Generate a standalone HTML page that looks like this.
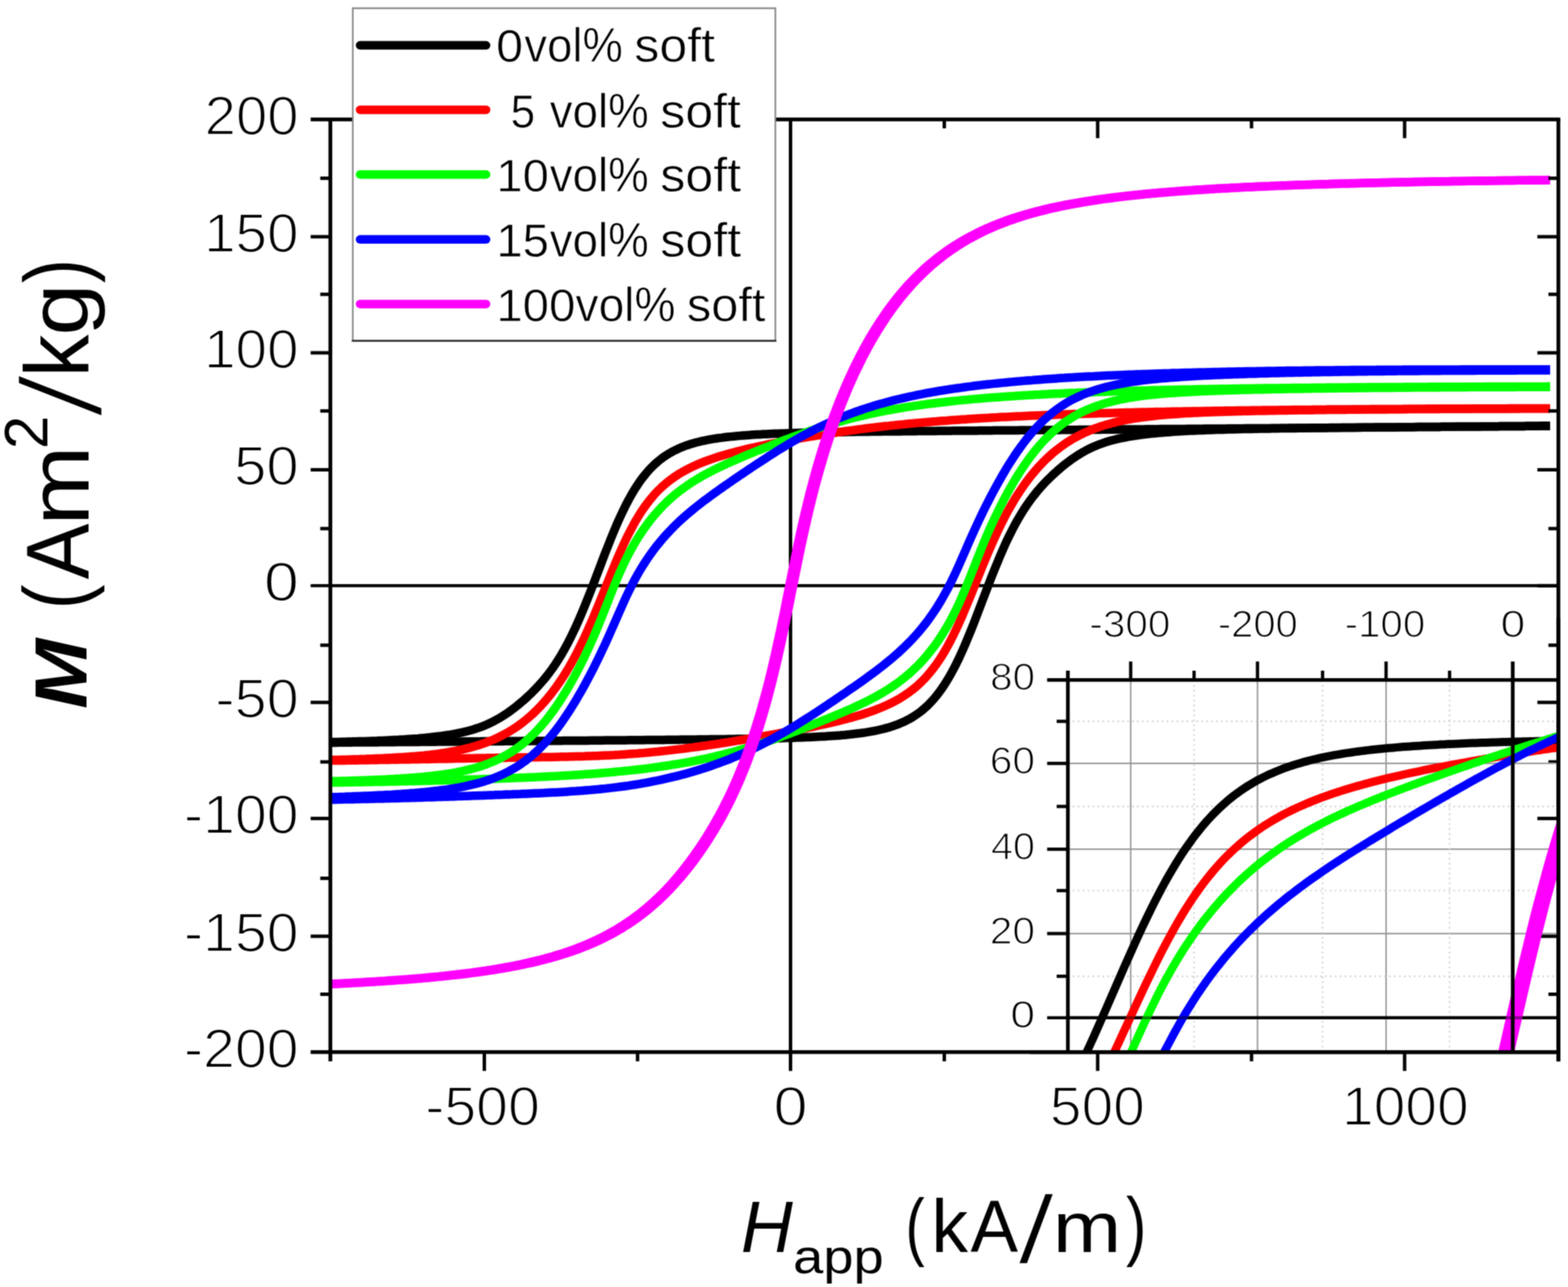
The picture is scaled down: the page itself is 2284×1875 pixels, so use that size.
<!DOCTYPE html>
<html lang="en"><head><meta charset="utf-8"><title>M versus H hysteresis loops</title>
<style>html,body{margin:0;padding:0;background:#fff}svg{display:block}text{font-family:"Liberation Sans",sans-serif;fill:#000}</style></head>
<body>
<svg xmlns="http://www.w3.org/2000/svg" width="2284" height="1875" viewBox="0 0 2284 1875">
<defs>
<clipPath id="cm"><rect x="480.2" y="174.0" width="1789.8" height="1358.7"/></clipPath>
<clipPath id="ci"><rect x="1555.5" y="990.6" width="713.5" height="542.1"/></clipPath>
<filter id="soft" filterUnits="userSpaceOnUse" x="0" y="0" width="2284" height="1875" color-interpolation-filters="sRGB"><feConvolveMatrix order="3" kernelMatrix="1 2 1 2 4 2 1 2 1" edgeMode="duplicate" preserveAlpha="true"/></filter>
</defs>
<rect width="2284" height="1875" fill="#fff"/>
<g filter="url(#soft)">
<rect width="2284" height="1875" fill="#fff"/>
<g stroke="#000" fill="none">
<line x1="452.5" y1="853.3" x2="2270.0" y2="853.3" stroke-width="4.6"/>
<line x1="1151.5" y1="174.0" x2="1151.5" y2="1560.2" stroke-width="5.0"/>
</g>
<g clip-path="url(#cm)" fill="none" stroke-width="12.5" stroke-linecap="butt" stroke-linejoin="round">
<path d="M472.3,1081.3 L476.5,1081.2 L480.8,1081.1 L485.1,1081.0 L489.3,1081.0 L493.6,1080.9 L497.9,1080.8 L502.1,1080.7 L506.4,1080.6 L510.6,1080.5 L514.9,1080.3 L519.2,1080.2 L523.4,1080.1 L527.7,1080.0 L532.0,1079.9 L536.2,1079.7 L540.5,1079.6 L544.7,1079.4 L549.0,1079.3 L553.3,1079.1 L557.5,1078.9 L561.8,1078.7 L566.0,1078.5 L570.3,1078.3 L574.6,1078.1 L578.8,1077.9 L583.1,1077.6 L587.4,1077.4 L591.6,1077.1 L595.9,1076.8 L600.1,1076.5 L604.4,1076.2 L608.7,1075.9 L612.9,1075.5 L617.2,1075.1 L621.4,1074.7 L625.7,1074.3 L630.0,1073.8 L634.2,1073.3 L638.5,1072.8 L642.8,1072.3 L647.0,1071.7 L651.3,1071.0 L655.5,1070.4 L659.8,1069.6 L664.1,1068.8 L668.3,1068.0 L672.6,1067.1 L676.8,1066.1 L681.1,1065.1 L685.4,1063.9 L689.6,1062.7 L693.9,1061.3 L698.2,1059.9 L702.4,1058.3 L706.7,1056.6 L710.9,1054.7 L715.2,1052.8 L719.5,1050.6 L723.7,1048.3 L728.0,1045.9 L732.2,1043.3 L736.5,1040.5 L740.8,1037.6 L745.0,1034.5 L749.3,1031.3 L753.6,1027.9 L757.8,1024.4 L762.1,1020.8 L766.3,1017.0 L770.6,1013.0 L774.9,1008.9 L779.1,1004.6 L783.4,1000.1 L787.6,995.4 L791.9,990.5 L796.2,985.2 L800.4,979.7 L804.7,973.9 L809.0,967.7 L813.2,961.1 L817.5,954.2 L821.7,946.8 L826.0,939.0 L830.3,930.7 L834.5,922.1 L838.8,913.0 L843.0,903.4 L847.3,893.5 L851.6,883.2 L855.8,872.6 L860.1,861.8 L864.4,850.8 L868.6,839.6 L872.9,828.4 L877.1,817.2 L881.4,806.1 L885.7,795.2 L889.9,784.5 L894.2,774.1 L898.4,764.1 L902.7,754.5 L907.0,745.4 L911.2,736.7 L915.5,728.5 L919.8,720.8 L924.0,713.6 L928.3,707.0 L932.5,700.8 L936.8,695.0 L941.1,689.7 L945.3,684.8 L949.6,680.4 L953.8,676.3 L958.1,672.5 L962.4,669.0 L966.6,665.9 L970.9,663.0 L975.2,660.4 L979.4,658.0 L983.7,655.8 L987.9,653.8 L992.2,651.9 L996.5,650.2 L1000.7,648.7 L1005.0,647.3 L1009.3,646.0 L1013.5,644.8 L1017.8,643.7 L1022.0,642.7 L1026.3,641.8 L1030.6,640.9 L1034.8,640.2 L1039.1,639.4 L1043.3,638.8 L1047.6,638.1 L1051.9,637.6 L1056.1,637.0 L1060.4,636.5 L1064.7,636.1 L1068.9,635.7 L1073.2,635.3 L1077.4,634.9 L1081.7,634.5 L1086.0,634.2 L1090.2,633.9 L1094.5,633.6 L1098.7,633.3 L1103.0,633.1 L1107.3,632.9 L1111.5,632.6 L1115.8,632.4 L1120.1,632.2 L1124.3,632.0 L1128.6,631.8 L1132.8,631.7 L1137.1,631.5 L1141.4,631.4 L1145.6,631.2 L1149.9,631.1 L1154.1,631.0 L1158.4,630.8 L1162.7,630.7 L1166.9,630.6 L1171.2,630.5 L1175.5,630.4 L1179.7,630.3 L1184.0,630.2 L1188.2,630.1 L1192.5,630.0 L1196.8,629.9 L1201.0,629.9 L1205.3,629.8 L1209.5,629.7 L1213.8,629.6 L1218.1,629.6 L1222.3,629.5 L1226.6,629.4 L1230.9,629.4 L1235.1,629.3 L1239.4,629.2 L1243.6,629.2 L1247.9,629.1 L1252.2,629.1 L1256.4,629.0 L1260.7,628.9 L1264.9,628.9 L1269.2,628.8 L1273.5,628.8 L1277.7,628.7 L1282.0,628.7 L1286.3,628.6 L1290.5,628.6 L1294.8,628.5 L1299.0,628.5 L1303.3,628.5 L1307.6,628.4 L1311.8,628.4 L1316.1,628.3 L1320.3,628.3 L1324.6,628.2 L1328.9,628.2 L1333.1,628.2 L1337.4,628.1 L1341.7,628.1 L1345.9,628.0 L1350.2,628.0 L1354.4,628.0 L1358.7,627.9 L1363.0,627.9 L1367.2,627.8 L1371.5,627.8 L1375.7,627.8 L1380.0,627.7 L1384.3,627.7 L1388.5,627.6 L1392.8,627.6 L1397.1,627.6 L1401.3,627.5 L1405.6,627.5 L1409.8,627.5 L1414.1,627.4 L1418.4,627.4 L1422.6,627.4 L1426.9,627.3 L1431.1,627.3 L1435.4,627.2 L1439.7,627.2 L1443.9,627.2 L1448.2,627.1 L1452.5,627.1 L1456.7,627.1 L1461.0,627.0 L1465.2,627.0 L1469.5,627.0 L1473.8,626.9 L1478.0,626.9 L1482.3,626.9 L1486.6,626.8 L1490.8,626.8 L1495.1,626.7 L1499.3,626.7 L1503.6,626.7 L1507.9,626.6 L1512.1,626.6 L1516.4,626.6 L1520.6,626.5 L1524.9,626.5 L1529.2,626.5 L1533.4,626.4 L1537.7,626.4 L1542.0,626.4 L1546.2,626.3 L1550.5,626.3 L1554.7,626.3 L1559.0,626.2 L1563.3,626.2 L1567.5,626.2 L1571.8,626.1 L1576.0,626.1 L1580.3,626.0 L1584.6,626.0 L1588.8,626.0 L1593.1,625.9 L1597.4,625.9 L1601.6,625.9 L1605.9,625.8 L1610.1,625.8 L1614.4,625.8 L1618.7,625.7 L1622.9,625.7 L1627.2,625.7 L1631.4,625.6 L1635.7,625.6 L1640.0,625.6 L1644.2,625.5 L1648.5,625.5 L1652.8,625.5 L1657.0,625.4 L1661.3,625.4 L1665.5,625.4 L1669.8,625.3 L1674.1,625.3 L1678.3,625.2 L1682.6,625.2 L1686.8,625.2 L1691.1,625.1 L1695.4,625.1 L1699.6,625.1 L1703.9,625.0 L1708.2,625.0 L1712.4,625.0 L1716.7,624.9 L1720.9,624.9 L1725.2,624.9 L1729.5,624.8 L1733.7,624.8 L1738.0,624.8 L1742.2,624.7 L1746.5,624.7 L1750.8,624.7 L1755.0,624.6 L1759.3,624.6 L1763.6,624.6 L1767.8,624.5 L1772.1,624.5 L1776.3,624.5 L1780.6,624.4 L1784.9,624.4 L1789.1,624.3 L1793.4,624.3 L1797.6,624.3 L1801.9,624.2 L1806.2,624.2 L1810.4,624.2 L1814.7,624.1 L1819.0,624.1 L1823.2,624.1 L1827.5,624.0 L1831.7,624.0 L1836.0,624.0 L1840.3,623.9 L1844.5,623.9 L1848.8,623.9 L1853.0,623.8 L1857.3,623.8 L1861.6,623.8 L1865.8,623.7 L1870.1,623.7 L1874.4,623.7 L1878.6,623.6 L1882.9,623.6 L1887.1,623.6 L1891.4,623.5 L1895.7,623.5 L1899.9,623.4 L1904.2,623.4 L1908.4,623.4 L1912.7,623.3 L1917.0,623.3 L1921.2,623.3 L1925.5,623.2 L1929.8,623.2 L1934.0,623.2 L1938.3,623.1 L1942.5,623.1 L1946.8,623.1 L1951.1,623.0 L1955.3,623.0 L1959.6,623.0 L1963.8,622.9 L1968.1,622.9 L1972.4,622.9 L1976.6,622.8 L1980.9,622.8 L1985.2,622.8 L1989.4,622.7 L1993.7,622.7 L1997.9,622.7 L2002.2,622.6 L2006.5,622.6 L2010.7,622.5 L2015.0,622.5 L2019.3,622.5 L2023.5,622.4 L2027.8,622.4 L2032.0,622.4 L2036.3,622.3 L2040.6,622.3 L2044.8,622.3 L2049.1,622.2 L2053.3,622.2 L2057.6,622.2 L2061.9,622.1 L2066.1,622.1 L2070.4,622.1 L2074.7,622.0 L2078.9,622.0 L2083.2,622.0 L2087.4,621.9 L2091.7,621.9 L2096.0,621.9 L2100.2,621.8 L2104.5,621.8 L2108.7,621.8 L2113.0,621.7 L2117.3,621.7 L2121.5,621.6 L2125.8,621.6 L2130.1,621.6 L2134.3,621.5 L2138.6,621.5 L2142.8,621.5 L2147.1,621.4 L2151.4,621.4 L2155.6,621.4 L2159.9,621.3 L2164.1,621.3 L2168.4,621.3 L2172.7,621.2 L2176.9,621.2 L2181.2,621.2 L2185.5,621.1 L2189.7,621.1 L2194.0,621.1 L2198.2,621.0 L2202.5,621.0 L2206.8,621.0 L2211.0,620.9 L2215.3,620.9 L2219.5,620.9 L2223.8,620.8 L2228.1,620.8 L2232.3,620.7 L2236.6,620.7 L2240.9,620.7 L2245.1,620.6 L2249.4,620.6 L2253.6,620.6 L2257.9,620.5" stroke="#000"/>
<path d="M472.3,1082.0 L476.5,1082.0 L480.8,1081.9 L485.1,1081.9 L489.3,1081.9 L493.6,1081.8 L497.9,1081.8 L502.1,1081.7 L506.4,1081.7 L510.6,1081.7 L514.9,1081.6 L519.2,1081.6 L523.4,1081.6 L527.7,1081.5 L532.0,1081.5 L536.2,1081.5 L540.5,1081.4 L544.7,1081.4 L549.0,1081.4 L553.3,1081.3 L557.5,1081.3 L561.8,1081.3 L566.0,1081.2 L570.3,1081.2 L574.6,1081.2 L578.8,1081.1 L583.1,1081.1 L587.4,1081.1 L591.6,1081.0 L595.9,1081.0 L600.1,1081.0 L604.4,1080.9 L608.7,1080.9 L612.9,1080.8 L617.2,1080.8 L621.4,1080.8 L625.7,1080.7 L630.0,1080.7 L634.2,1080.7 L638.5,1080.6 L642.8,1080.6 L647.0,1080.6 L651.3,1080.5 L655.5,1080.5 L659.8,1080.5 L664.1,1080.4 L668.3,1080.4 L672.6,1080.4 L676.8,1080.3 L681.1,1080.3 L685.4,1080.3 L689.6,1080.2 L693.9,1080.2 L698.2,1080.2 L702.4,1080.1 L706.7,1080.1 L710.9,1080.0 L715.2,1080.0 L719.5,1080.0 L723.7,1079.9 L728.0,1079.9 L732.2,1079.9 L736.5,1079.8 L740.8,1079.8 L745.0,1079.8 L749.3,1079.7 L753.6,1079.7 L757.8,1079.7 L762.1,1079.6 L766.3,1079.6 L770.6,1079.6 L774.9,1079.5 L779.1,1079.5 L783.4,1079.5 L787.6,1079.4 L791.9,1079.4 L796.2,1079.4 L800.4,1079.3 L804.7,1079.3 L809.0,1079.2 L813.2,1079.2 L817.5,1079.2 L821.7,1079.1 L826.0,1079.1 L830.3,1079.1 L834.5,1079.0 L838.8,1079.0 L843.0,1079.0 L847.3,1078.9 L851.6,1078.9 L855.8,1078.9 L860.1,1078.8 L864.4,1078.8 L868.6,1078.7 L872.9,1078.7 L877.1,1078.7 L881.4,1078.6 L885.7,1078.6 L889.9,1078.6 L894.2,1078.5 L898.4,1078.5 L902.7,1078.5 L907.0,1078.4 L911.2,1078.4 L915.5,1078.3 L919.8,1078.3 L924.0,1078.3 L928.3,1078.2 L932.5,1078.2 L936.8,1078.2 L941.1,1078.1 L945.3,1078.1 L949.6,1078.0 L953.8,1078.0 L958.1,1078.0 L962.4,1077.9 L966.6,1077.9 L970.9,1077.8 L975.2,1077.8 L979.4,1077.7 L983.7,1077.7 L987.9,1077.7 L992.2,1077.6 L996.5,1077.6 L1000.7,1077.5 L1005.0,1077.5 L1009.3,1077.4 L1013.5,1077.4 L1017.8,1077.3 L1022.0,1077.3 L1026.3,1077.2 L1030.6,1077.2 L1034.8,1077.1 L1039.1,1077.1 L1043.3,1077.0 L1047.6,1077.0 L1051.9,1076.9 L1056.1,1076.9 L1060.4,1076.8 L1064.7,1076.8 L1068.9,1076.7 L1073.2,1076.6 L1077.4,1076.6 L1081.7,1076.5 L1086.0,1076.4 L1090.2,1076.4 L1094.5,1076.3 L1098.7,1076.2 L1103.0,1076.1 L1107.3,1076.0 L1111.5,1076.0 L1115.8,1075.9 L1120.1,1075.8 L1124.3,1075.7 L1128.6,1075.6 L1132.8,1075.5 L1137.1,1075.4 L1141.4,1075.3 L1145.6,1075.1 L1149.9,1075.0 L1154.1,1074.9 L1158.4,1074.7 L1162.7,1074.6 L1166.9,1074.4 L1171.2,1074.3 L1175.5,1074.1 L1179.7,1073.9 L1184.0,1073.7 L1188.2,1073.5 L1192.5,1073.3 L1196.8,1073.1 L1201.0,1072.9 L1205.3,1072.6 L1209.5,1072.3 L1213.8,1072.0 L1218.1,1071.7 L1222.3,1071.4 L1226.6,1071.0 L1230.9,1070.7 L1235.1,1070.2 L1239.4,1069.8 L1243.6,1069.3 L1247.9,1068.8 L1252.2,1068.3 L1256.4,1067.7 L1260.7,1067.1 L1264.9,1066.4 L1269.2,1065.7 L1273.5,1064.9 L1277.7,1064.0 L1282.0,1063.0 L1286.3,1062.0 L1290.5,1060.9 L1294.8,1059.7 L1299.0,1058.4 L1303.3,1056.9 L1307.6,1055.4 L1311.8,1053.6 L1316.1,1051.8 L1320.3,1049.7 L1324.6,1047.5 L1328.9,1045.0 L1333.1,1042.3 L1337.4,1039.4 L1341.7,1036.1 L1345.9,1032.6 L1350.2,1028.8 L1354.4,1024.6 L1358.7,1020.0 L1363.0,1015.0 L1367.2,1009.6 L1371.5,1003.8 L1375.7,997.5 L1380.0,990.7 L1384.3,983.4 L1388.5,975.6 L1392.8,967.3 L1397.1,958.5 L1401.3,949.2 L1405.6,939.5 L1409.8,929.4 L1414.1,919.0 L1418.4,908.2 L1422.6,897.3 L1426.9,886.1 L1431.1,874.9 L1435.4,863.7 L1439.7,852.6 L1443.9,841.6 L1448.2,830.8 L1452.5,820.3 L1456.7,810.1 L1461.0,800.2 L1465.2,790.8 L1469.5,781.8 L1473.8,773.2 L1478.0,765.1 L1482.3,757.4 L1486.6,750.1 L1490.8,743.3 L1495.1,736.8 L1499.3,730.7 L1503.6,724.9 L1507.9,719.5 L1512.1,714.3 L1516.4,709.4 L1520.6,704.8 L1524.9,700.3 L1529.2,696.1 L1533.4,692.0 L1537.7,688.1 L1542.0,684.3 L1546.2,680.7 L1550.5,677.2 L1554.7,673.9 L1559.0,670.7 L1563.3,667.7 L1567.5,664.8 L1571.8,662.1 L1576.0,659.5 L1580.3,657.1 L1584.6,654.8 L1588.8,652.7 L1593.1,650.8 L1597.4,649.0 L1601.6,647.3 L1605.9,645.8 L1610.1,644.3 L1614.4,643.0 L1618.7,641.8 L1622.9,640.7 L1627.2,639.6 L1631.4,638.7 L1635.7,637.8 L1640.0,637.0 L1644.2,636.2 L1648.5,635.5 L1652.8,634.8 L1657.0,634.2 L1661.3,633.6 L1665.5,633.0 L1669.8,632.5 L1674.1,632.1 L1678.3,631.6 L1682.6,631.2 L1686.8,630.8 L1691.1,630.4 L1695.4,630.1 L1699.6,629.7 L1703.9,629.4 L1708.2,629.1 L1712.4,628.8 L1716.7,628.6 L1720.9,628.3 L1725.2,628.1 L1729.5,627.8 L1733.7,627.6 L1738.0,627.4 L1742.2,627.2 L1746.5,627.0 L1750.8,626.9 L1755.0,626.7 L1759.3,626.5 L1763.6,626.4 L1767.8,626.3 L1772.1,626.1 L1776.3,626.0 L1780.6,625.9 L1784.9,625.7 L1789.1,625.6 L1793.4,625.5 L1797.6,625.4 L1801.9,625.3 L1806.2,625.2 L1810.4,625.1 L1814.7,625.0 L1819.0,624.9 L1823.2,624.9 L1827.5,624.8 L1831.7,624.7 L1836.0,624.6 L1840.3,624.5 L1844.5,624.5 L1848.8,624.4 L1853.0,624.3 L1857.3,624.3 L1861.6,624.2 L1865.8,624.1 L1870.1,624.1 L1874.4,624.0 L1878.6,624.0 L1882.9,623.9 L1887.1,623.9 L1891.4,623.8 L1895.7,623.8 L1899.9,623.7 L1904.2,623.7 L1908.4,623.6 L1912.7,623.6 L1917.0,623.5 L1921.2,623.5 L1925.5,623.4 L1929.8,623.4 L1934.0,623.3 L1938.3,623.3 L1942.5,623.2 L1946.8,623.2 L1951.1,623.2 L1955.3,623.1 L1959.6,623.1 L1963.8,623.0 L1968.1,623.0 L1972.4,623.0 L1976.6,622.9 L1980.9,622.9 L1985.2,622.8 L1989.4,622.8 L1993.7,622.8 L1997.9,622.7 L2002.2,622.7 L2006.5,622.6 L2010.7,622.6 L2015.0,622.6 L2019.3,622.5 L2023.5,622.5 L2027.8,622.5 L2032.0,622.4 L2036.3,622.4 L2040.6,622.3 L2044.8,622.3 L2049.1,622.3 L2053.3,622.2 L2057.6,622.2 L2061.9,622.2 L2066.1,622.1 L2070.4,622.1 L2074.7,622.1 L2078.9,622.0 L2083.2,622.0 L2087.4,621.9 L2091.7,621.9 L2096.0,621.9 L2100.2,621.8 L2104.5,621.8 L2108.7,621.8 L2113.0,621.7 L2117.3,621.7 L2121.5,621.7 L2125.8,621.6 L2130.1,621.6 L2134.3,621.6 L2138.6,621.5 L2142.8,621.5 L2147.1,621.4 L2151.4,621.4 L2155.6,621.4 L2159.9,621.3 L2164.1,621.3 L2168.4,621.3 L2172.7,621.2 L2176.9,621.2 L2181.2,621.2 L2185.5,621.1 L2189.7,621.1 L2194.0,621.1 L2198.2,621.0 L2202.5,621.0 L2206.8,621.0 L2211.0,620.9 L2215.3,620.9 L2219.5,620.9 L2223.8,620.8 L2228.1,620.8 L2232.3,620.8 L2236.6,620.7 L2240.9,620.7 L2245.1,620.6 L2249.4,620.6 L2253.6,620.6 L2257.9,620.5" stroke="#000"/>
<path d="M472.3,1107.4 L476.5,1107.3 L480.8,1107.2 L485.1,1107.1 L489.3,1107.0 L493.6,1106.9 L497.9,1106.8 L502.1,1106.7 L506.4,1106.6 L510.6,1106.4 L514.9,1106.3 L519.2,1106.2 L523.4,1106.1 L527.7,1105.9 L532.0,1105.8 L536.2,1105.6 L540.5,1105.5 L544.7,1105.3 L549.0,1105.1 L553.3,1104.9 L557.5,1104.7 L561.8,1104.5 L566.0,1104.3 L570.3,1104.1 L574.6,1103.8 L578.8,1103.6 L583.1,1103.3 L587.4,1103.1 L591.6,1102.8 L595.9,1102.4 L600.1,1102.1 L604.4,1101.8 L608.7,1101.4 L612.9,1101.0 L617.2,1100.6 L621.4,1100.1 L625.7,1099.7 L630.0,1099.2 L634.2,1098.7 L638.5,1098.1 L642.8,1097.5 L647.0,1096.9 L651.3,1096.2 L655.5,1095.5 L659.8,1094.7 L664.1,1093.9 L668.3,1093.0 L672.6,1092.1 L676.8,1091.1 L681.1,1090.1 L685.4,1089.0 L689.6,1087.8 L693.9,1086.6 L698.2,1085.2 L702.4,1083.8 L706.7,1082.3 L710.9,1080.7 L715.2,1079.0 L719.5,1077.2 L723.7,1075.3 L728.0,1073.2 L732.2,1071.1 L736.5,1068.8 L740.8,1066.4 L745.0,1063.8 L749.3,1061.1 L753.6,1058.2 L757.8,1055.1 L762.1,1051.9 L766.3,1048.5 L770.6,1044.9 L774.9,1041.1 L779.1,1037.1 L783.4,1032.9 L787.6,1028.5 L791.9,1023.8 L796.2,1018.9 L800.4,1013.7 L804.7,1008.3 L809.0,1002.6 L813.2,996.6 L817.5,990.4 L821.7,983.8 L826.0,976.9 L830.3,969.6 L834.5,962.0 L838.8,954.1 L843.0,945.8 L847.3,937.1 L851.6,928.1 L855.8,918.8 L860.1,909.1 L864.4,899.2 L868.6,889.0 L872.9,878.6 L877.1,868.0 L881.4,857.4 L885.7,846.8 L889.9,836.2 L894.2,825.8 L898.4,815.6 L902.7,805.7 L907.0,796.2 L911.2,787.0 L915.5,778.3 L919.8,770.0 L924.0,762.2 L928.3,754.8 L932.5,747.9 L936.8,741.5 L941.1,735.5 L945.3,729.9 L949.6,724.7 L953.8,719.8 L958.1,715.3 L962.4,711.1 L966.6,707.2 L970.9,703.5 L975.2,700.1 L979.4,697.0 L983.7,694.0 L987.9,691.2 L992.2,688.6 L996.5,686.2 L1000.7,683.9 L1005.0,681.7 L1009.3,679.6 L1013.5,677.7 L1017.8,675.8 L1022.0,674.1 L1026.3,672.4 L1030.6,670.8 L1034.8,669.3 L1039.1,667.8 L1043.3,666.4 L1047.6,665.0 L1051.9,663.7 L1056.1,662.5 L1060.4,661.3 L1064.7,660.1 L1068.9,659.0 L1073.2,657.9 L1077.4,656.8 L1081.7,655.7 L1086.0,654.7 L1090.2,653.7 L1094.5,652.7 L1098.7,651.8 L1103.0,650.8 L1107.3,649.9 L1111.5,649.0 L1115.8,648.1 L1120.1,647.2 L1124.3,646.4 L1128.6,645.5 L1132.8,644.7 L1137.1,643.9 L1141.4,643.0 L1145.6,642.2 L1149.9,641.5 L1154.1,640.7 L1158.4,639.9 L1162.7,639.1 L1166.9,638.4 L1171.2,637.7 L1175.5,636.9 L1179.7,636.2 L1184.0,635.5 L1188.2,634.8 L1192.5,634.1 L1196.8,633.4 L1201.0,632.8 L1205.3,632.1 L1209.5,631.4 L1213.8,630.8 L1218.1,630.2 L1222.3,629.5 L1226.6,628.9 L1230.9,628.3 L1235.1,627.7 L1239.4,627.1 L1243.6,626.6 L1247.9,626.0 L1252.2,625.4 L1256.4,624.9 L1260.7,624.3 L1264.9,623.8 L1269.2,623.3 L1273.5,622.8 L1277.7,622.3 L1282.0,621.8 L1286.3,621.3 L1290.5,620.8 L1294.8,620.4 L1299.0,619.9 L1303.3,619.5 L1307.6,619.0 L1311.8,618.6 L1316.1,618.2 L1320.3,617.7 L1324.6,617.3 L1328.9,616.9 L1333.1,616.5 L1337.4,616.1 L1341.7,615.8 L1345.9,615.4 L1350.2,615.0 L1354.4,614.7 L1358.7,614.3 L1363.0,614.0 L1367.2,613.6 L1371.5,613.3 L1375.7,613.0 L1380.0,612.7 L1384.3,612.3 L1388.5,612.0 L1392.8,611.7 L1397.1,611.4 L1401.3,611.1 L1405.6,610.9 L1409.8,610.6 L1414.1,610.3 L1418.4,610.0 L1422.6,609.8 L1426.9,609.5 L1431.1,609.3 L1435.4,609.0 L1439.7,608.8 L1443.9,608.5 L1448.2,608.3 L1452.5,608.1 L1456.7,607.8 L1461.0,607.6 L1465.2,607.4 L1469.5,607.2 L1473.8,607.0 L1478.0,606.8 L1482.3,606.6 L1486.6,606.4 L1490.8,606.2 L1495.1,606.0 L1499.3,605.8 L1503.6,605.6 L1507.9,605.4 L1512.1,605.2 L1516.4,605.1 L1520.6,604.9 L1524.9,604.7 L1529.2,604.6 L1533.4,604.4 L1537.7,604.2 L1542.0,604.1 L1546.2,603.9 L1550.5,603.8 L1554.7,603.6 L1559.0,603.5 L1563.3,603.3 L1567.5,603.2 L1571.8,603.1 L1576.0,602.9 L1580.3,602.8 L1584.6,602.7 L1588.8,602.5 L1593.1,602.4 L1597.4,602.3 L1601.6,602.1 L1605.9,602.0 L1610.1,601.9 L1614.4,601.8 L1618.7,601.7 L1622.9,601.6 L1627.2,601.4 L1631.4,601.3 L1635.7,601.2 L1640.0,601.1 L1644.2,601.0 L1648.5,600.9 L1652.8,600.8 L1657.0,600.7 L1661.3,600.6 L1665.5,600.5 L1669.8,600.4 L1674.1,600.3 L1678.3,600.2 L1682.6,600.1 L1686.8,600.1 L1691.1,600.0 L1695.4,599.9 L1699.6,599.8 L1703.9,599.7 L1708.2,599.6 L1712.4,599.5 L1716.7,599.5 L1720.9,599.4 L1725.2,599.3 L1729.5,599.2 L1733.7,599.2 L1738.0,599.1 L1742.2,599.0 L1746.5,598.9 L1750.8,598.9 L1755.0,598.8 L1759.3,598.7 L1763.6,598.7 L1767.8,598.6 L1772.1,598.5 L1776.3,598.5 L1780.6,598.4 L1784.9,598.3 L1789.1,598.3 L1793.4,598.2 L1797.6,598.2 L1801.9,598.1 L1806.2,598.0 L1810.4,598.0 L1814.7,597.9 L1819.0,597.9 L1823.2,597.8 L1827.5,597.8 L1831.7,597.7 L1836.0,597.7 L1840.3,597.6 L1844.5,597.5 L1848.8,597.5 L1853.0,597.4 L1857.3,597.4 L1861.6,597.4 L1865.8,597.3 L1870.1,597.3 L1874.4,597.2 L1878.6,597.2 L1882.9,597.1 L1887.1,597.1 L1891.4,597.0 L1895.7,597.0 L1899.9,597.0 L1904.2,596.9 L1908.4,596.9 L1912.7,596.8 L1917.0,596.8 L1921.2,596.8 L1925.5,596.7 L1929.8,596.7 L1934.0,596.6 L1938.3,596.6 L1942.5,596.6 L1946.8,596.5 L1951.1,596.5 L1955.3,596.5 L1959.6,596.4 L1963.8,596.4 L1968.1,596.4 L1972.4,596.3 L1976.6,596.3 L1980.9,596.3 L1985.2,596.2 L1989.4,596.2 L1993.7,596.2 L1997.9,596.1 L2002.2,596.1 L2006.5,596.1 L2010.7,596.1 L2015.0,596.0 L2019.3,596.0 L2023.5,596.0 L2027.8,595.9 L2032.0,595.9 L2036.3,595.9 L2040.6,595.9 L2044.8,595.8 L2049.1,595.8 L2053.3,595.8 L2057.6,595.8 L2061.9,595.7 L2066.1,595.7 L2070.4,595.7 L2074.7,595.7 L2078.9,595.6 L2083.2,595.6 L2087.4,595.6 L2091.7,595.6 L2096.0,595.6 L2100.2,595.5 L2104.5,595.5 L2108.7,595.5 L2113.0,595.5 L2117.3,595.5 L2121.5,595.4 L2125.8,595.4 L2130.1,595.4 L2134.3,595.4 L2138.6,595.4 L2142.8,595.4 L2147.1,595.3 L2151.4,595.3 L2155.6,595.3 L2159.9,595.3 L2164.1,595.3 L2168.4,595.3 L2172.7,595.2 L2176.9,595.2 L2181.2,595.2 L2185.5,595.2 L2189.7,595.2 L2194.0,595.2 L2198.2,595.1 L2202.5,595.1 L2206.8,595.1 L2211.0,595.1 L2215.3,595.1 L2219.5,595.1 L2223.8,595.1 L2228.1,595.1 L2232.3,595.0 L2236.6,595.0 L2240.9,595.0 L2245.1,595.0 L2249.4,595.0 L2253.6,595.0 L2257.9,595.0" stroke="#f00"/>
<path d="M472.3,1108.3 L476.5,1108.2 L480.8,1108.2 L485.1,1108.1 L489.3,1108.1 L493.6,1108.0 L497.9,1108.0 L502.1,1107.9 L506.4,1107.8 L510.6,1107.8 L514.9,1107.7 L519.2,1107.7 L523.4,1107.6 L527.7,1107.5 L532.0,1107.5 L536.2,1107.4 L540.5,1107.3 L544.7,1107.3 L549.0,1107.2 L553.3,1107.1 L557.5,1107.1 L561.8,1107.0 L566.0,1106.9 L570.3,1106.8 L574.6,1106.8 L578.8,1106.7 L583.1,1106.6 L587.4,1106.6 L591.6,1106.5 L595.9,1106.4 L600.1,1106.3 L604.4,1106.3 L608.7,1106.2 L612.9,1106.1 L617.2,1106.0 L621.4,1105.9 L625.7,1105.9 L630.0,1105.8 L634.2,1105.7 L638.5,1105.6 L642.8,1105.5 L647.0,1105.5 L651.3,1105.4 L655.5,1105.3 L659.8,1105.2 L664.1,1105.1 L668.3,1105.1 L672.6,1105.0 L676.8,1104.9 L681.1,1104.8 L685.4,1104.7 L689.6,1104.7 L693.9,1104.6 L698.2,1104.5 L702.4,1104.4 L706.7,1104.4 L710.9,1104.3 L715.2,1104.2 L719.5,1104.2 L723.7,1104.1 L728.0,1104.0 L732.2,1104.0 L736.5,1103.9 L740.8,1103.8 L745.0,1103.8 L749.3,1103.7 L753.6,1103.6 L757.8,1103.6 L762.1,1103.5 L766.3,1103.4 L770.6,1103.4 L774.9,1103.3 L779.1,1103.3 L783.4,1103.2 L787.6,1103.1 L791.9,1103.1 L796.2,1103.0 L800.4,1102.9 L804.7,1102.9 L809.0,1102.8 L813.2,1102.7 L817.5,1102.6 L821.7,1102.5 L826.0,1102.4 L830.3,1102.3 L834.5,1102.2 L838.8,1102.1 L843.0,1102.0 L847.3,1101.9 L851.6,1101.8 L855.8,1101.6 L860.1,1101.5 L864.4,1101.3 L868.6,1101.2 L872.9,1101.0 L877.1,1100.8 L881.4,1100.6 L885.7,1100.4 L889.9,1100.2 L894.2,1100.0 L898.4,1099.7 L902.7,1099.5 L907.0,1099.2 L911.2,1098.9 L915.5,1098.6 L919.8,1098.3 L924.0,1098.0 L928.3,1097.7 L932.5,1097.3 L936.8,1097.0 L941.1,1096.6 L945.3,1096.2 L949.6,1095.8 L953.8,1095.4 L958.1,1095.0 L962.4,1094.5 L966.6,1094.1 L970.9,1093.6 L975.2,1093.1 L979.4,1092.6 L983.7,1092.1 L987.9,1091.6 L992.2,1091.1 L996.5,1090.6 L1000.7,1090.0 L1005.0,1089.4 L1009.3,1088.9 L1013.5,1088.3 L1017.8,1087.7 L1022.0,1087.1 L1026.3,1086.5 L1030.6,1085.9 L1034.8,1085.2 L1039.1,1084.6 L1043.3,1084.0 L1047.6,1083.3 L1051.9,1082.6 L1056.1,1082.0 L1060.4,1081.3 L1064.7,1080.6 L1068.9,1079.9 L1073.2,1079.2 L1077.4,1078.5 L1081.7,1077.8 L1086.0,1077.1 L1090.2,1076.4 L1094.5,1075.7 L1098.7,1074.9 L1103.0,1074.2 L1107.3,1073.4 L1111.5,1072.7 L1115.8,1071.9 L1120.1,1071.2 L1124.3,1070.4 L1128.6,1069.6 L1132.8,1068.8 L1137.1,1068.0 L1141.4,1067.2 L1145.6,1066.4 L1149.9,1065.6 L1154.1,1064.8 L1158.4,1064.0 L1162.7,1063.1 L1166.9,1062.3 L1171.2,1061.4 L1175.5,1060.6 L1179.7,1059.7 L1184.0,1058.8 L1188.2,1057.9 L1192.5,1057.0 L1196.8,1056.0 L1201.0,1055.1 L1205.3,1054.1 L1209.5,1053.2 L1213.8,1052.2 L1218.1,1051.2 L1222.3,1050.1 L1226.6,1049.0 L1230.9,1048.0 L1235.1,1046.8 L1239.4,1045.7 L1243.6,1044.5 L1247.9,1043.3 L1252.2,1042.0 L1256.4,1040.7 L1260.7,1039.3 L1264.9,1037.9 L1269.2,1036.4 L1273.5,1034.8 L1277.7,1033.2 L1282.0,1031.5 L1286.3,1029.8 L1290.5,1027.9 L1294.8,1025.9 L1299.0,1023.8 L1303.3,1021.6 L1307.6,1019.3 L1311.8,1016.8 L1316.1,1014.1 L1320.3,1011.3 L1324.6,1008.3 L1328.9,1005.1 L1333.1,1001.6 L1337.4,997.9 L1341.7,993.9 L1345.9,989.7 L1350.2,985.1 L1354.4,980.1 L1358.7,974.8 L1363.0,969.1 L1367.2,963.0 L1371.5,956.5 L1375.7,949.5 L1380.0,942.0 L1384.3,934.0 L1388.5,925.7 L1392.8,916.8 L1397.1,907.6 L1401.3,897.9 L1405.6,887.9 L1409.8,877.7 L1414.1,867.3 L1418.4,856.7 L1422.6,846.0 L1426.9,835.4 L1431.1,824.9 L1435.4,814.5 L1439.7,804.4 L1443.9,794.5 L1448.2,784.9 L1452.5,775.7 L1456.7,766.7 L1461.0,758.2 L1465.2,750.0 L1469.5,742.1 L1473.8,734.6 L1478.0,727.4 L1482.3,720.6 L1486.6,714.1 L1490.8,707.9 L1495.1,702.0 L1499.3,696.3 L1503.6,691.0 L1507.9,685.9 L1512.1,681.0 L1516.4,676.4 L1520.6,672.1 L1524.9,667.9 L1529.2,664.0 L1533.4,660.2 L1537.7,656.7 L1542.0,653.3 L1546.2,650.1 L1550.5,647.1 L1554.7,644.3 L1559.0,641.6 L1563.3,639.0 L1567.5,636.7 L1571.8,634.4 L1576.0,632.3 L1580.3,630.2 L1584.6,628.4 L1588.8,626.6 L1593.1,624.9 L1597.4,623.3 L1601.6,621.8 L1605.9,620.4 L1610.1,619.1 L1614.4,617.9 L1618.7,616.7 L1622.9,615.6 L1627.2,614.6 L1631.4,613.7 L1635.7,612.7 L1640.0,611.9 L1644.2,611.1 L1648.5,610.3 L1652.8,609.6 L1657.0,609.0 L1661.3,608.4 L1665.5,607.8 L1669.8,607.2 L1674.1,606.7 L1678.3,606.2 L1682.6,605.7 L1686.8,605.3 L1691.1,604.9 L1695.4,604.5 L1699.6,604.1 L1703.9,603.8 L1708.2,603.5 L1712.4,603.2 L1716.7,602.9 L1720.9,602.6 L1725.2,602.3 L1729.5,602.1 L1733.7,601.9 L1738.0,601.6 L1742.2,601.4 L1746.5,601.2 L1750.8,601.0 L1755.0,600.8 L1759.3,600.7 L1763.6,600.5 L1767.8,600.3 L1772.1,600.2 L1776.3,600.1 L1780.6,599.9 L1784.9,599.8 L1789.1,599.7 L1793.4,599.5 L1797.6,599.4 L1801.9,599.3 L1806.2,599.2 L1810.4,599.1 L1814.7,599.0 L1819.0,598.9 L1823.2,598.8 L1827.5,598.7 L1831.7,598.6 L1836.0,598.5 L1840.3,598.5 L1844.5,598.4 L1848.8,598.3 L1853.0,598.2 L1857.3,598.2 L1861.6,598.1 L1865.8,598.0 L1870.1,598.0 L1874.4,597.9 L1878.6,597.8 L1882.9,597.8 L1887.1,597.7 L1891.4,597.6 L1895.7,597.6 L1899.9,597.5 L1904.2,597.5 L1908.4,597.4 L1912.7,597.4 L1917.0,597.3 L1921.2,597.3 L1925.5,597.2 L1929.8,597.2 L1934.0,597.1 L1938.3,597.1 L1942.5,597.0 L1946.8,597.0 L1951.1,597.0 L1955.3,596.9 L1959.6,596.9 L1963.8,596.8 L1968.1,596.8 L1972.4,596.8 L1976.6,596.7 L1980.9,596.7 L1985.2,596.6 L1989.4,596.6 L1993.7,596.6 L1997.9,596.5 L2002.2,596.5 L2006.5,596.5 L2010.7,596.4 L2015.0,596.4 L2019.3,596.4 L2023.5,596.3 L2027.8,596.3 L2032.0,596.3 L2036.3,596.2 L2040.6,596.2 L2044.8,596.2 L2049.1,596.2 L2053.3,596.1 L2057.6,596.1 L2061.9,596.1 L2066.1,596.0 L2070.4,596.0 L2074.7,596.0 L2078.9,596.0 L2083.2,595.9 L2087.4,595.9 L2091.7,595.9 L2096.0,595.9 L2100.2,595.8 L2104.5,595.8 L2108.7,595.8 L2113.0,595.8 L2117.3,595.8 L2121.5,595.7 L2125.8,595.7 L2130.1,595.7 L2134.3,595.7 L2138.6,595.7 L2142.8,595.6 L2147.1,595.6 L2151.4,595.6 L2155.6,595.6 L2159.9,595.6 L2164.1,595.5 L2168.4,595.5 L2172.7,595.5 L2176.9,595.5 L2181.2,595.5 L2185.5,595.4 L2189.7,595.4 L2194.0,595.4 L2198.2,595.4 L2202.5,595.4 L2206.8,595.4 L2211.0,595.4 L2215.3,595.3 L2219.5,595.3 L2223.8,595.3 L2228.1,595.3 L2232.3,595.3 L2236.6,595.3 L2240.9,595.3 L2245.1,595.2 L2249.4,595.2 L2253.6,595.2 L2257.9,595.2" stroke="#f00"/>
<path d="M472.3,1138.4 L476.5,1138.3 L480.8,1138.2 L485.1,1138.1 L489.3,1138.0 L493.6,1137.9 L497.9,1137.8 L502.1,1137.7 L506.4,1137.6 L510.6,1137.4 L514.9,1137.3 L519.2,1137.2 L523.4,1137.0 L527.7,1136.9 L532.0,1136.7 L536.2,1136.6 L540.5,1136.4 L544.7,1136.2 L549.0,1136.0 L553.3,1135.9 L557.5,1135.7 L561.8,1135.5 L566.0,1135.2 L570.3,1135.0 L574.6,1134.8 L578.8,1134.5 L583.1,1134.3 L587.4,1134.0 L591.6,1133.7 L595.9,1133.4 L600.1,1133.1 L604.4,1132.8 L608.7,1132.4 L612.9,1132.0 L617.2,1131.7 L621.4,1131.2 L625.7,1130.8 L630.0,1130.3 L634.2,1129.8 L638.5,1129.3 L642.8,1128.7 L647.0,1128.1 L651.3,1127.5 L655.5,1126.8 L659.8,1126.1 L664.1,1125.3 L668.3,1124.5 L672.6,1123.6 L676.8,1122.7 L681.1,1121.7 L685.4,1120.6 L689.6,1119.5 L693.9,1118.3 L698.2,1117.0 L702.4,1115.6 L706.7,1114.1 L710.9,1112.5 L715.2,1110.8 L719.5,1109.0 L723.7,1107.1 L728.0,1105.1 L732.2,1102.9 L736.5,1100.5 L740.8,1098.1 L745.0,1095.4 L749.3,1092.6 L753.6,1089.6 L757.8,1086.5 L762.1,1083.1 L766.3,1079.5 L770.6,1075.7 L774.9,1071.7 L779.1,1067.5 L783.4,1063.0 L787.6,1058.3 L791.9,1053.4 L796.2,1048.2 L800.4,1042.7 L804.7,1037.0 L809.0,1031.0 L813.2,1024.8 L817.5,1018.3 L821.7,1011.5 L826.0,1004.4 L830.3,997.1 L834.5,989.5 L838.8,981.7 L843.0,973.6 L847.3,965.1 L851.6,956.4 L855.8,947.4 L860.1,938.1 L864.4,928.5 L868.6,918.5 L872.9,908.2 L877.1,897.7 L881.4,886.9 L885.7,876.0 L889.9,865.2 L894.2,854.5 L898.4,844.2 L902.7,834.3 L907.0,824.9 L911.2,816.0 L915.5,807.6 L919.8,799.7 L924.0,792.2 L928.3,785.1 L932.5,778.4 L936.8,772.0 L941.1,766.0 L945.3,760.3 L949.6,754.9 L953.8,749.8 L958.1,744.9 L962.4,740.3 L966.6,735.9 L970.9,731.7 L975.2,727.7 L979.4,723.9 L983.7,720.3 L987.9,716.9 L992.2,713.6 L996.5,710.5 L1000.7,707.5 L1005.0,704.6 L1009.3,701.8 L1013.5,699.2 L1017.8,696.6 L1022.0,694.1 L1026.3,691.8 L1030.6,689.5 L1034.8,687.2 L1039.1,685.0 L1043.3,682.9 L1047.6,680.8 L1051.9,678.8 L1056.1,676.8 L1060.4,674.9 L1064.7,673.0 L1068.9,671.1 L1073.2,669.2 L1077.4,667.4 L1081.7,665.6 L1086.0,663.8 L1090.2,662.0 L1094.5,660.3 L1098.7,658.5 L1103.0,656.8 L1107.3,655.1 L1111.5,653.4 L1115.8,651.7 L1120.1,650.0 L1124.3,648.3 L1128.6,646.6 L1132.8,645.0 L1137.1,643.3 L1141.4,641.7 L1145.6,640.1 L1149.9,638.5 L1154.1,636.9 L1158.4,635.4 L1162.7,633.8 L1166.9,632.3 L1171.2,630.8 L1175.5,629.3 L1179.7,627.8 L1184.0,626.4 L1188.2,624.9 L1192.5,623.5 L1196.8,622.2 L1201.0,620.8 L1205.3,619.5 L1209.5,618.2 L1213.8,616.9 L1218.1,615.7 L1222.3,614.4 L1226.6,613.2 L1230.9,612.1 L1235.1,610.9 L1239.4,609.8 L1243.6,608.7 L1247.9,607.7 L1252.2,606.6 L1256.4,605.6 L1260.7,604.6 L1264.9,603.7 L1269.2,602.7 L1273.5,601.8 L1277.7,600.9 L1282.0,600.0 L1286.3,599.2 L1290.5,598.4 L1294.8,597.6 L1299.0,596.8 L1303.3,596.0 L1307.6,595.3 L1311.8,594.6 L1316.1,593.9 L1320.3,593.2 L1324.6,592.5 L1328.9,591.9 L1333.1,591.2 L1337.4,590.6 L1341.7,590.0 L1345.9,589.4 L1350.2,588.8 L1354.4,588.3 L1358.7,587.7 L1363.0,587.2 L1367.2,586.7 L1371.5,586.2 L1375.7,585.7 L1380.0,585.2 L1384.3,584.8 L1388.5,584.3 L1392.8,583.9 L1397.1,583.4 L1401.3,583.0 L1405.6,582.6 L1409.8,582.2 L1414.1,581.8 L1418.4,581.4 L1422.6,581.0 L1426.9,580.7 L1431.1,580.3 L1435.4,580.0 L1439.7,579.6 L1443.9,579.3 L1448.2,579.0 L1452.5,578.7 L1456.7,578.4 L1461.0,578.0 L1465.2,577.8 L1469.5,577.5 L1473.8,577.2 L1478.0,576.9 L1482.3,576.6 L1486.6,576.4 L1490.8,576.1 L1495.1,575.9 L1499.3,575.6 L1503.6,575.4 L1507.9,575.1 L1512.1,574.9 L1516.4,574.7 L1520.6,574.4 L1524.9,574.2 L1529.2,574.0 L1533.4,573.8 L1537.7,573.6 L1542.0,573.4 L1546.2,573.2 L1550.5,573.0 L1554.7,572.8 L1559.0,572.6 L1563.3,572.4 L1567.5,572.3 L1571.8,572.1 L1576.0,571.9 L1580.3,571.7 L1584.6,571.6 L1588.8,571.4 L1593.1,571.3 L1597.4,571.1 L1601.6,570.9 L1605.9,570.8 L1610.1,570.7 L1614.4,570.5 L1618.7,570.4 L1622.9,570.2 L1627.2,570.1 L1631.4,570.0 L1635.7,569.8 L1640.0,569.7 L1644.2,569.6 L1648.5,569.4 L1652.8,569.3 L1657.0,569.2 L1661.3,569.1 L1665.5,569.0 L1669.8,568.9 L1674.1,568.7 L1678.3,568.6 L1682.6,568.5 L1686.8,568.4 L1691.1,568.3 L1695.4,568.2 L1699.6,568.1 L1703.9,568.0 L1708.2,567.9 L1712.4,567.8 L1716.7,567.7 L1720.9,567.6 L1725.2,567.6 L1729.5,567.5 L1733.7,567.4 L1738.0,567.3 L1742.2,567.2 L1746.5,567.1 L1750.8,567.0 L1755.0,567.0 L1759.3,566.9 L1763.6,566.8 L1767.8,566.7 L1772.1,566.7 L1776.3,566.6 L1780.6,566.5 L1784.9,566.4 L1789.1,566.4 L1793.4,566.3 L1797.6,566.2 L1801.9,566.2 L1806.2,566.1 L1810.4,566.1 L1814.7,566.0 L1819.0,565.9 L1823.2,565.9 L1827.5,565.8 L1831.7,565.7 L1836.0,565.7 L1840.3,565.6 L1844.5,565.6 L1848.8,565.5 L1853.0,565.5 L1857.3,565.4 L1861.6,565.4 L1865.8,565.3 L1870.1,565.3 L1874.4,565.2 L1878.6,565.2 L1882.9,565.1 L1887.1,565.1 L1891.4,565.0 L1895.7,565.0 L1899.9,564.9 L1904.2,564.9 L1908.4,564.9 L1912.7,564.8 L1917.0,564.8 L1921.2,564.7 L1925.5,564.7 L1929.8,564.7 L1934.0,564.6 L1938.3,564.6 L1942.5,564.5 L1946.8,564.5 L1951.1,564.5 L1955.3,564.4 L1959.6,564.4 L1963.8,564.4 L1968.1,564.3 L1972.4,564.3 L1976.6,564.3 L1980.9,564.2 L1985.2,564.2 L1989.4,564.2 L1993.7,564.1 L1997.9,564.1 L2002.2,564.1 L2006.5,564.1 L2010.7,564.0 L2015.0,564.0 L2019.3,564.0 L2023.5,564.0 L2027.8,563.9 L2032.0,563.9 L2036.3,563.9 L2040.6,563.9 L2044.8,563.8 L2049.1,563.8 L2053.3,563.8 L2057.6,563.8 L2061.9,563.7 L2066.1,563.7 L2070.4,563.7 L2074.7,563.7 L2078.9,563.7 L2083.2,563.6 L2087.4,563.6 L2091.7,563.6 L2096.0,563.6 L2100.2,563.6 L2104.5,563.5 L2108.7,563.5 L2113.0,563.5 L2117.3,563.5 L2121.5,563.5 L2125.8,563.5 L2130.1,563.4 L2134.3,563.4 L2138.6,563.4 L2142.8,563.4 L2147.1,563.4 L2151.4,563.4 L2155.6,563.4 L2159.9,563.4 L2164.1,563.3 L2168.4,563.3 L2172.7,563.3 L2176.9,563.3 L2181.2,563.3 L2185.5,563.3 L2189.7,563.3 L2194.0,563.3 L2198.2,563.3 L2202.5,563.2 L2206.8,563.2 L2211.0,563.2 L2215.3,563.2 L2219.5,563.2 L2223.8,563.2 L2228.1,563.2 L2232.3,563.2 L2236.6,563.2 L2240.9,563.2 L2245.1,563.2 L2249.4,563.2 L2253.6,563.1 L2257.9,563.1" stroke="#0f0"/>
<path d="M472.3,1140.2 L476.5,1140.2 L480.8,1140.1 L485.1,1140.1 L489.3,1140.0 L493.6,1139.9 L497.9,1139.9 L502.1,1139.8 L506.4,1139.7 L510.6,1139.7 L514.9,1139.6 L519.2,1139.5 L523.4,1139.5 L527.7,1139.4 L532.0,1139.3 L536.2,1139.2 L540.5,1139.2 L544.7,1139.1 L549.0,1139.0 L553.3,1138.9 L557.5,1138.9 L561.8,1138.8 L566.0,1138.7 L570.3,1138.6 L574.6,1138.5 L578.8,1138.4 L583.1,1138.3 L587.4,1138.2 L591.6,1138.2 L595.9,1138.1 L600.1,1138.0 L604.4,1137.9 L608.7,1137.8 L612.9,1137.7 L617.2,1137.6 L621.4,1137.5 L625.7,1137.4 L630.0,1137.3 L634.2,1137.1 L638.5,1137.0 L642.8,1136.9 L647.0,1136.8 L651.3,1136.7 L655.5,1136.6 L659.8,1136.5 L664.1,1136.3 L668.3,1136.2 L672.6,1136.1 L676.8,1136.0 L681.1,1135.8 L685.4,1135.7 L689.6,1135.6 L693.9,1135.4 L698.2,1135.3 L702.4,1135.1 L706.7,1135.0 L710.9,1134.9 L715.2,1134.7 L719.5,1134.6 L723.7,1134.4 L728.0,1134.3 L732.2,1134.1 L736.5,1133.9 L740.8,1133.8 L745.0,1133.6 L749.3,1133.4 L753.6,1133.3 L757.8,1133.1 L762.1,1132.9 L766.3,1132.7 L770.6,1132.5 L774.9,1132.4 L779.1,1132.2 L783.4,1132.0 L787.6,1131.8 L791.9,1131.6 L796.2,1131.4 L800.4,1131.1 L804.7,1130.9 L809.0,1130.7 L813.2,1130.5 L817.5,1130.2 L821.7,1130.0 L826.0,1129.7 L830.3,1129.5 L834.5,1129.2 L838.8,1128.9 L843.0,1128.7 L847.3,1128.4 L851.6,1128.1 L855.8,1127.8 L860.1,1127.5 L864.4,1127.2 L868.6,1126.9 L872.9,1126.5 L877.1,1126.2 L881.4,1125.8 L885.7,1125.5 L889.9,1125.1 L894.2,1124.7 L898.4,1124.3 L902.7,1123.9 L907.0,1123.5 L911.2,1123.0 L915.5,1122.6 L919.8,1122.1 L924.0,1121.7 L928.3,1121.2 L932.5,1120.7 L936.8,1120.2 L941.1,1119.7 L945.3,1119.1 L949.6,1118.6 L953.8,1118.0 L958.1,1117.4 L962.4,1116.8 L966.6,1116.2 L970.9,1115.5 L975.2,1114.9 L979.4,1114.2 L983.7,1113.5 L987.9,1112.8 L992.2,1112.1 L996.5,1111.3 L1000.7,1110.6 L1005.0,1109.8 L1009.3,1109.0 L1013.5,1108.1 L1017.8,1107.3 L1022.0,1106.4 L1026.3,1105.5 L1030.6,1104.6 L1034.8,1103.6 L1039.1,1102.7 L1043.3,1101.7 L1047.6,1100.6 L1051.9,1099.6 L1056.1,1098.5 L1060.4,1097.4 L1064.7,1096.3 L1068.9,1095.2 L1073.2,1094.0 L1077.4,1092.8 L1081.7,1091.6 L1086.0,1090.3 L1090.2,1089.1 L1094.5,1087.8 L1098.7,1086.4 L1103.0,1085.1 L1107.3,1083.7 L1111.5,1082.3 L1115.8,1080.9 L1120.1,1079.5 L1124.3,1078.0 L1128.6,1076.5 L1132.8,1075.0 L1137.1,1073.5 L1141.4,1071.9 L1145.6,1070.4 L1149.9,1068.8 L1154.1,1067.2 L1158.4,1065.6 L1162.7,1064.0 L1166.9,1062.3 L1171.2,1060.7 L1175.5,1059.0 L1179.7,1057.4 L1184.0,1055.7 L1188.2,1054.0 L1192.5,1052.3 L1196.8,1050.6 L1201.0,1048.8 L1205.3,1047.1 L1209.5,1045.3 L1213.8,1043.6 L1218.1,1041.8 L1222.3,1040.0 L1226.6,1038.2 L1230.9,1036.3 L1235.1,1034.5 L1239.4,1032.6 L1243.6,1030.7 L1247.9,1028.7 L1252.2,1026.7 L1256.4,1024.7 L1260.7,1022.6 L1264.9,1020.5 L1269.2,1018.3 L1273.5,1016.0 L1277.7,1013.7 L1282.0,1011.3 L1286.3,1008.8 L1290.5,1006.2 L1294.8,1003.5 L1299.0,1000.7 L1303.3,997.8 L1307.6,994.8 L1311.8,991.6 L1316.1,988.3 L1320.3,984.8 L1324.6,981.2 L1328.9,977.3 L1333.1,973.3 L1337.4,969.1 L1341.7,964.6 L1345.9,959.9 L1350.2,955.0 L1354.4,949.8 L1358.7,944.3 L1363.0,938.6 L1367.2,932.5 L1371.5,926.1 L1375.7,919.3 L1380.0,912.1 L1384.3,904.5 L1388.5,896.4 L1392.8,887.9 L1397.1,878.9 L1401.3,869.3 L1405.6,859.3 L1409.8,848.9 L1414.1,838.2 L1418.4,827.4 L1422.6,816.5 L1426.9,805.8 L1431.1,795.2 L1435.4,785.0 L1439.7,775.1 L1443.9,765.6 L1448.2,756.4 L1452.5,747.4 L1456.7,738.8 L1461.0,730.5 L1465.2,722.4 L1469.5,714.6 L1473.8,707.1 L1478.0,699.8 L1482.3,692.9 L1486.6,686.1 L1490.8,679.7 L1495.1,673.5 L1499.3,667.6 L1503.6,661.9 L1507.9,656.5 L1512.1,651.4 L1516.4,646.5 L1520.6,641.9 L1524.9,637.5 L1529.2,633.3 L1533.4,629.3 L1537.7,625.6 L1542.0,622.1 L1546.2,618.8 L1550.5,615.6 L1554.7,612.7 L1559.0,609.9 L1563.3,607.3 L1567.5,604.9 L1571.8,602.6 L1576.0,600.4 L1580.3,598.4 L1584.6,596.5 L1588.8,594.8 L1593.1,593.1 L1597.4,591.5 L1601.6,590.1 L1605.9,588.7 L1610.1,587.4 L1614.4,586.2 L1618.7,585.1 L1622.9,584.1 L1627.2,583.1 L1631.4,582.2 L1635.7,581.3 L1640.0,580.5 L1644.2,579.7 L1648.5,579.0 L1652.8,578.4 L1657.0,577.7 L1661.3,577.1 L1665.5,576.6 L1669.8,576.1 L1674.1,575.6 L1678.3,575.1 L1682.6,574.7 L1686.8,574.3 L1691.1,573.9 L1695.4,573.5 L1699.6,573.1 L1703.9,572.8 L1708.2,572.5 L1712.4,572.2 L1716.7,571.9 L1720.9,571.6 L1725.2,571.4 L1729.5,571.2 L1733.7,570.9 L1738.0,570.7 L1742.2,570.5 L1746.5,570.3 L1750.8,570.1 L1755.0,569.9 L1759.3,569.7 L1763.6,569.6 L1767.8,569.4 L1772.1,569.2 L1776.3,569.1 L1780.6,568.9 L1784.9,568.8 L1789.1,568.7 L1793.4,568.5 L1797.6,568.4 L1801.9,568.3 L1806.2,568.2 L1810.4,568.1 L1814.7,568.0 L1819.0,567.9 L1823.2,567.7 L1827.5,567.6 L1831.7,567.5 L1836.0,567.5 L1840.3,567.4 L1844.5,567.3 L1848.8,567.2 L1853.0,567.1 L1857.3,567.0 L1861.6,566.9 L1865.8,566.9 L1870.1,566.8 L1874.4,566.7 L1878.6,566.6 L1882.9,566.6 L1887.1,566.5 L1891.4,566.4 L1895.7,566.4 L1899.9,566.3 L1904.2,566.2 L1908.4,566.2 L1912.7,566.1 L1917.0,566.1 L1921.2,566.0 L1925.5,565.9 L1929.8,565.9 L1934.0,565.8 L1938.3,565.8 L1942.5,565.7 L1946.8,565.7 L1951.1,565.6 L1955.3,565.6 L1959.6,565.5 L1963.8,565.5 L1968.1,565.4 L1972.4,565.4 L1976.6,565.3 L1980.9,565.3 L1985.2,565.2 L1989.4,565.2 L1993.7,565.2 L1997.9,565.1 L2002.2,565.1 L2006.5,565.0 L2010.7,565.0 L2015.0,565.0 L2019.3,564.9 L2023.5,564.9 L2027.8,564.9 L2032.0,564.8 L2036.3,564.8 L2040.6,564.8 L2044.8,564.7 L2049.1,564.7 L2053.3,564.7 L2057.6,564.6 L2061.9,564.6 L2066.1,564.6 L2070.4,564.5 L2074.7,564.5 L2078.9,564.5 L2083.2,564.5 L2087.4,564.4 L2091.7,564.4 L2096.0,564.4 L2100.2,564.3 L2104.5,564.3 L2108.7,564.3 L2113.0,564.3 L2117.3,564.3 L2121.5,564.2 L2125.8,564.2 L2130.1,564.2 L2134.3,564.2 L2138.6,564.1 L2142.8,564.1 L2147.1,564.1 L2151.4,564.1 L2155.6,564.1 L2159.9,564.0 L2164.1,564.0 L2168.4,564.0 L2172.7,564.0 L2176.9,564.0 L2181.2,564.0 L2185.5,563.9 L2189.7,563.9 L2194.0,563.9 L2198.2,563.9 L2202.5,563.9 L2206.8,563.9 L2211.0,563.8 L2215.3,563.8 L2219.5,563.8 L2223.8,563.8 L2228.1,563.8 L2232.3,563.8 L2236.6,563.8 L2240.9,563.8 L2245.1,563.7 L2249.4,563.7 L2253.6,563.7 L2257.9,563.7" stroke="#0f0"/>
<path d="M472.3,1161.7 L476.5,1161.6 L480.8,1161.5 L485.1,1161.3 L489.3,1161.2 L493.6,1161.1 L497.9,1160.9 L502.1,1160.8 L506.4,1160.6 L510.6,1160.5 L514.9,1160.3 L519.2,1160.1 L523.4,1160.0 L527.7,1159.8 L532.0,1159.6 L536.2,1159.4 L540.5,1159.2 L544.7,1159.0 L549.0,1158.8 L553.3,1158.6 L557.5,1158.4 L561.8,1158.1 L566.0,1157.9 L570.3,1157.7 L574.6,1157.4 L578.8,1157.1 L583.1,1156.9 L587.4,1156.6 L591.6,1156.3 L595.9,1155.9 L600.1,1155.6 L604.4,1155.3 L608.7,1154.9 L612.9,1154.5 L617.2,1154.1 L621.4,1153.7 L625.7,1153.3 L630.0,1152.8 L634.2,1152.3 L638.5,1151.8 L642.8,1151.2 L647.0,1150.7 L651.3,1150.1 L655.5,1149.4 L659.8,1148.8 L664.1,1148.0 L668.3,1147.3 L672.6,1146.5 L676.8,1145.6 L681.1,1144.7 L685.4,1143.7 L689.6,1142.7 L693.9,1141.6 L698.2,1140.5 L702.4,1139.2 L706.7,1137.9 L710.9,1136.5 L715.2,1135.1 L719.5,1133.5 L723.7,1131.8 L728.0,1130.0 L732.2,1128.1 L736.5,1126.0 L740.8,1123.9 L745.0,1121.5 L749.3,1119.1 L753.6,1116.5 L757.8,1113.7 L762.1,1110.7 L766.3,1107.6 L770.6,1104.3 L774.9,1100.8 L779.1,1097.0 L783.4,1093.1 L787.6,1088.9 L791.9,1084.5 L796.2,1079.9 L800.4,1075.1 L804.7,1070.0 L809.0,1064.6 L813.2,1059.1 L817.5,1053.2 L821.7,1047.2 L826.0,1040.8 L830.3,1034.3 L834.5,1027.5 L838.8,1020.5 L843.0,1013.2 L847.3,1005.8 L851.6,998.1 L855.8,990.2 L860.1,982.1 L864.4,973.8 L868.6,965.3 L872.9,956.6 L877.1,947.7 L881.4,938.6 L885.7,929.2 L889.9,919.6 L894.2,909.9 L898.4,900.2 L902.7,890.4 L907.0,880.8 L911.2,871.4 L915.5,862.4 L919.8,853.8 L924.0,845.6 L928.3,837.8 L932.5,830.5 L936.8,823.5 L941.1,816.9 L945.3,810.6 L949.6,804.6 L953.8,798.9 L958.1,793.4 L962.4,788.2 L966.6,783.2 L970.9,778.5 L975.2,773.9 L979.4,769.5 L983.7,765.2 L987.9,761.1 L992.2,757.1 L996.5,753.3 L1000.7,749.6 L1005.0,746.0 L1009.3,742.4 L1013.5,739.0 L1017.8,735.6 L1022.0,732.3 L1026.3,729.1 L1030.6,725.9 L1034.8,722.7 L1039.1,719.6 L1043.3,716.6 L1047.6,713.5 L1051.9,710.5 L1056.1,707.5 L1060.4,704.6 L1064.7,701.6 L1068.9,698.7 L1073.2,695.8 L1077.4,692.9 L1081.7,690.0 L1086.0,687.1 L1090.2,684.3 L1094.5,681.4 L1098.7,678.6 L1103.0,675.8 L1107.3,673.0 L1111.5,670.2 L1115.8,667.4 L1120.1,664.6 L1124.3,661.9 L1128.6,659.2 L1132.8,656.5 L1137.1,653.9 L1141.4,651.3 L1145.6,648.7 L1149.9,646.1 L1154.1,643.6 L1158.4,641.2 L1162.7,638.7 L1166.9,636.3 L1171.2,634.0 L1175.5,631.7 L1179.7,629.4 L1184.0,627.2 L1188.2,625.0 L1192.5,622.9 L1196.8,620.8 L1201.0,618.8 L1205.3,616.8 L1209.5,614.9 L1213.8,613.0 L1218.1,611.1 L1222.3,609.3 L1226.6,607.6 L1230.9,605.9 L1235.1,604.2 L1239.4,602.6 L1243.6,601.0 L1247.9,599.5 L1252.2,598.0 L1256.4,596.5 L1260.7,595.1 L1264.9,593.7 L1269.2,592.4 L1273.5,591.1 L1277.7,589.8 L1282.0,588.6 L1286.3,587.4 L1290.5,586.2 L1294.8,585.1 L1299.0,583.9 L1303.3,582.9 L1307.6,581.8 L1311.8,580.8 L1316.1,579.8 L1320.3,578.8 L1324.6,577.9 L1328.9,577.0 L1333.1,576.1 L1337.4,575.2 L1341.7,574.4 L1345.9,573.5 L1350.2,572.7 L1354.4,572.0 L1358.7,571.2 L1363.0,570.5 L1367.2,569.7 L1371.5,569.0 L1375.7,568.3 L1380.0,567.7 L1384.3,567.0 L1388.5,566.4 L1392.8,565.8 L1397.1,565.2 L1401.3,564.6 L1405.6,564.0 L1409.8,563.4 L1414.1,562.9 L1418.4,562.3 L1422.6,561.8 L1426.9,561.3 L1431.1,560.8 L1435.4,560.3 L1439.7,559.8 L1443.9,559.4 L1448.2,558.9 L1452.5,558.5 L1456.7,558.0 L1461.0,557.6 L1465.2,557.2 L1469.5,556.8 L1473.8,556.4 L1478.0,556.0 L1482.3,555.6 L1486.6,555.3 L1490.8,554.9 L1495.1,554.5 L1499.3,554.2 L1503.6,553.9 L1507.9,553.5 L1512.1,553.2 L1516.4,552.9 L1520.6,552.6 L1524.9,552.3 L1529.2,552.0 L1533.4,551.7 L1537.7,551.4 L1542.0,551.1 L1546.2,550.8 L1550.5,550.6 L1554.7,550.3 L1559.0,550.0 L1563.3,549.8 L1567.5,549.5 L1571.8,549.3 L1576.0,549.1 L1580.3,548.8 L1584.6,548.6 L1588.8,548.4 L1593.1,548.2 L1597.4,547.9 L1601.6,547.7 L1605.9,547.5 L1610.1,547.3 L1614.4,547.1 L1618.7,546.9 L1622.9,546.7 L1627.2,546.6 L1631.4,546.4 L1635.7,546.2 L1640.0,546.0 L1644.2,545.8 L1648.5,545.7 L1652.8,545.5 L1657.0,545.3 L1661.3,545.2 L1665.5,545.0 L1669.8,544.9 L1674.1,544.7 L1678.3,544.6 L1682.6,544.4 L1686.8,544.3 L1691.1,544.2 L1695.4,544.0 L1699.6,543.9 L1703.9,543.8 L1708.2,543.6 L1712.4,543.5 L1716.7,543.4 L1720.9,543.2 L1725.2,543.1 L1729.5,543.0 L1733.7,542.9 L1738.0,542.8 L1742.2,542.7 L1746.5,542.6 L1750.8,542.5 L1755.0,542.4 L1759.3,542.3 L1763.6,542.2 L1767.8,542.1 L1772.1,542.0 L1776.3,541.9 L1780.6,541.8 L1784.9,541.7 L1789.1,541.6 L1793.4,541.5 L1797.6,541.4 L1801.9,541.3 L1806.2,541.3 L1810.4,541.2 L1814.7,541.1 L1819.0,541.0 L1823.2,540.9 L1827.5,540.9 L1831.7,540.8 L1836.0,540.7 L1840.3,540.7 L1844.5,540.6 L1848.8,540.5 L1853.0,540.5 L1857.3,540.4 L1861.6,540.3 L1865.8,540.3 L1870.1,540.2 L1874.4,540.1 L1878.6,540.1 L1882.9,540.0 L1887.1,540.0 L1891.4,539.9 L1895.7,539.9 L1899.9,539.8 L1904.2,539.8 L1908.4,539.7 L1912.7,539.7 L1917.0,539.6 L1921.2,539.6 L1925.5,539.5 L1929.8,539.5 L1934.0,539.4 L1938.3,539.4 L1942.5,539.4 L1946.8,539.3 L1951.1,539.3 L1955.3,539.2 L1959.6,539.2 L1963.8,539.2 L1968.1,539.1 L1972.4,539.1 L1976.6,539.1 L1980.9,539.0 L1985.2,539.0 L1989.4,539.0 L1993.7,538.9 L1997.9,538.9 L2002.2,538.9 L2006.5,538.8 L2010.7,538.8 L2015.0,538.8 L2019.3,538.8 L2023.5,538.7 L2027.8,538.7 L2032.0,538.7 L2036.3,538.7 L2040.6,538.7 L2044.8,538.6 L2049.1,538.6 L2053.3,538.6 L2057.6,538.6 L2061.9,538.6 L2066.1,538.5 L2070.4,538.5 L2074.7,538.5 L2078.9,538.5 L2083.2,538.5 L2087.4,538.5 L2091.7,538.4 L2096.0,538.4 L2100.2,538.4 L2104.5,538.4 L2108.7,538.4 L2113.0,538.4 L2117.3,538.4 L2121.5,538.4 L2125.8,538.4 L2130.1,538.3 L2134.3,538.3 L2138.6,538.3 L2142.8,538.3 L2147.1,538.3 L2151.4,538.3 L2155.6,538.3 L2159.9,538.3 L2164.1,538.3 L2168.4,538.3 L2172.7,538.3 L2176.9,538.3 L2181.2,538.3 L2185.5,538.3 L2189.7,538.3 L2194.0,538.3 L2198.2,538.3 L2202.5,538.3 L2206.8,538.3 L2211.0,538.3 L2215.3,538.3 L2219.5,538.3 L2223.8,538.3 L2228.1,538.3 L2232.3,538.3 L2236.6,538.3 L2240.9,538.3 L2245.1,538.3 L2249.4,538.3 L2253.6,538.3 L2257.9,538.3" stroke="#00f"/>
<path d="M472.3,1165.2 L476.5,1165.1 L480.8,1165.0 L485.1,1165.0 L489.3,1164.9 L493.6,1164.8 L497.9,1164.7 L502.1,1164.6 L506.4,1164.6 L510.6,1164.5 L514.9,1164.4 L519.2,1164.3 L523.4,1164.2 L527.7,1164.1 L532.0,1164.0 L536.2,1163.9 L540.5,1163.8 L544.7,1163.7 L549.0,1163.6 L553.3,1163.5 L557.5,1163.4 L561.8,1163.3 L566.0,1163.2 L570.3,1163.1 L574.6,1163.0 L578.8,1162.9 L583.1,1162.8 L587.4,1162.6 L591.6,1162.5 L595.9,1162.4 L600.1,1162.3 L604.4,1162.2 L608.7,1162.0 L612.9,1161.9 L617.2,1161.8 L621.4,1161.6 L625.7,1161.5 L630.0,1161.4 L634.2,1161.2 L638.5,1161.1 L642.8,1161.0 L647.0,1160.8 L651.3,1160.7 L655.5,1160.5 L659.8,1160.4 L664.1,1160.2 L668.3,1160.1 L672.6,1160.0 L676.8,1159.8 L681.1,1159.7 L685.4,1159.5 L689.6,1159.3 L693.9,1159.2 L698.2,1159.0 L702.4,1158.9 L706.7,1158.7 L710.9,1158.6 L715.2,1158.4 L719.5,1158.3 L723.7,1158.1 L728.0,1157.9 L732.2,1157.8 L736.5,1157.6 L740.8,1157.4 L745.0,1157.3 L749.3,1157.1 L753.6,1156.9 L757.8,1156.8 L762.1,1156.6 L766.3,1156.4 L770.6,1156.2 L774.9,1156.0 L779.1,1155.8 L783.4,1155.7 L787.6,1155.5 L791.9,1155.3 L796.2,1155.0 L800.4,1154.8 L804.7,1154.6 L809.0,1154.4 L813.2,1154.2 L817.5,1153.9 L821.7,1153.7 L826.0,1153.4 L830.3,1153.1 L834.5,1152.8 L838.8,1152.6 L843.0,1152.3 L847.3,1151.9 L851.6,1151.6 L855.8,1151.3 L860.1,1150.9 L864.4,1150.5 L868.6,1150.1 L872.9,1149.7 L877.1,1149.3 L881.4,1148.9 L885.7,1148.4 L889.9,1147.9 L894.2,1147.4 L898.4,1146.9 L902.7,1146.3 L907.0,1145.8 L911.2,1145.2 L915.5,1144.6 L919.8,1143.9 L924.0,1143.3 L928.3,1142.6 L932.5,1141.9 L936.8,1141.1 L941.1,1140.4 L945.3,1139.6 L949.6,1138.7 L953.8,1137.9 L958.1,1137.0 L962.4,1136.1 L966.6,1135.2 L970.9,1134.2 L975.2,1133.2 L979.4,1132.2 L983.7,1131.2 L987.9,1130.1 L992.2,1129.0 L996.5,1127.9 L1000.7,1126.7 L1005.0,1125.5 L1009.3,1124.3 L1013.5,1123.0 L1017.8,1121.7 L1022.0,1120.4 L1026.3,1119.0 L1030.6,1117.6 L1034.8,1116.2 L1039.1,1114.7 L1043.3,1113.2 L1047.6,1111.6 L1051.9,1110.0 L1056.1,1108.4 L1060.4,1106.8 L1064.7,1105.1 L1068.9,1103.3 L1073.2,1101.5 L1077.4,1099.7 L1081.7,1097.9 L1086.0,1095.9 L1090.2,1094.0 L1094.5,1092.0 L1098.7,1090.0 L1103.0,1087.9 L1107.3,1085.8 L1111.5,1083.6 L1115.8,1081.4 L1120.1,1079.2 L1124.3,1076.9 L1128.6,1074.5 L1132.8,1072.2 L1137.1,1069.7 L1141.4,1067.3 L1145.6,1064.8 L1149.9,1062.3 L1154.1,1059.7 L1158.4,1057.1 L1162.7,1054.5 L1166.9,1051.8 L1171.2,1049.1 L1175.5,1046.4 L1179.7,1043.7 L1184.0,1040.9 L1188.2,1038.2 L1192.5,1035.4 L1196.8,1032.6 L1201.0,1029.7 L1205.3,1026.9 L1209.5,1024.0 L1213.8,1021.2 L1218.1,1018.3 L1222.3,1015.4 L1226.6,1012.5 L1230.9,1009.6 L1235.1,1006.7 L1239.4,1003.7 L1243.6,1000.8 L1247.9,997.8 L1252.2,994.8 L1256.4,991.8 L1260.7,988.7 L1264.9,985.7 L1269.2,982.5 L1273.5,979.4 L1277.7,976.2 L1282.0,972.9 L1286.3,969.6 L1290.5,966.2 L1294.8,962.7 L1299.0,959.2 L1303.3,955.5 L1307.6,951.8 L1311.8,947.9 L1316.1,943.9 L1320.3,939.8 L1324.6,935.5 L1328.9,931.0 L1333.1,926.4 L1337.4,921.6 L1341.7,916.5 L1345.9,911.3 L1350.2,905.8 L1354.4,900.0 L1358.7,893.9 L1363.0,887.6 L1367.2,880.9 L1371.5,873.8 L1375.7,866.3 L1380.0,858.5 L1384.3,850.2 L1388.5,841.5 L1392.8,832.4 L1397.1,822.9 L1401.3,813.3 L1405.6,803.5 L1409.8,793.7 L1414.1,784.0 L1418.4,774.5 L1422.6,765.2 L1426.9,756.1 L1431.1,747.3 L1435.4,738.6 L1439.7,730.1 L1443.9,721.9 L1448.2,713.9 L1452.5,706.0 L1456.7,698.4 L1461.0,691.0 L1465.2,683.8 L1469.5,676.8 L1473.8,670.1 L1478.0,663.6 L1482.3,657.4 L1486.6,651.3 L1490.8,645.6 L1495.1,640.0 L1499.3,634.8 L1503.6,629.7 L1507.9,624.9 L1512.1,620.4 L1516.4,616.0 L1520.6,611.9 L1524.9,608.1 L1529.2,604.4 L1533.4,600.9 L1537.7,597.6 L1542.0,594.5 L1546.2,591.6 L1550.5,588.9 L1554.7,586.3 L1559.0,583.9 L1563.3,581.6 L1567.5,579.5 L1571.8,577.5 L1576.0,575.6 L1580.3,573.8 L1584.6,572.1 L1588.8,570.6 L1593.1,569.1 L1597.4,567.7 L1601.6,566.4 L1605.9,565.2 L1610.1,564.1 L1614.4,563.0 L1618.7,562.0 L1622.9,561.1 L1627.2,560.2 L1631.4,559.3 L1635.7,558.5 L1640.0,557.8 L1644.2,557.1 L1648.5,556.4 L1652.8,555.8 L1657.0,555.2 L1661.3,554.6 L1665.5,554.1 L1669.8,553.6 L1674.1,553.1 L1678.3,552.6 L1682.6,552.2 L1686.8,551.8 L1691.1,551.4 L1695.4,551.0 L1699.6,550.7 L1703.9,550.3 L1708.2,550.0 L1712.4,549.7 L1716.7,549.4 L1720.9,549.1 L1725.2,548.8 L1729.5,548.5 L1733.7,548.3 L1738.0,548.0 L1742.2,547.8 L1746.5,547.6 L1750.8,547.3 L1755.0,547.1 L1759.3,546.9 L1763.6,546.7 L1767.8,546.5 L1772.1,546.3 L1776.3,546.2 L1780.6,546.0 L1784.9,545.8 L1789.1,545.7 L1793.4,545.5 L1797.6,545.3 L1801.9,545.2 L1806.2,545.0 L1810.4,544.9 L1814.7,544.8 L1819.0,544.6 L1823.2,544.5 L1827.5,544.4 L1831.7,544.2 L1836.0,544.1 L1840.3,544.0 L1844.5,543.9 L1848.8,543.8 L1853.0,543.6 L1857.3,543.5 L1861.6,543.4 L1865.8,543.3 L1870.1,543.2 L1874.4,543.1 L1878.6,543.0 L1882.9,542.9 L1887.1,542.8 L1891.4,542.8 L1895.7,542.7 L1899.9,542.6 L1904.2,542.5 L1908.4,542.4 L1912.7,542.3 L1917.0,542.3 L1921.2,542.2 L1925.5,542.1 L1929.8,542.0 L1934.0,542.0 L1938.3,541.9 L1942.5,541.8 L1946.8,541.8 L1951.1,541.7 L1955.3,541.6 L1959.6,541.6 L1963.8,541.5 L1968.1,541.4 L1972.4,541.4 L1976.6,541.3 L1980.9,541.3 L1985.2,541.2 L1989.4,541.2 L1993.7,541.1 L1997.9,541.0 L2002.2,541.0 L2006.5,541.0 L2010.7,540.9 L2015.0,540.9 L2019.3,540.8 L2023.5,540.8 L2027.8,540.7 L2032.0,540.7 L2036.3,540.6 L2040.6,540.6 L2044.8,540.6 L2049.1,540.5 L2053.3,540.5 L2057.6,540.4 L2061.9,540.4 L2066.1,540.4 L2070.4,540.3 L2074.7,540.3 L2078.9,540.3 L2083.2,540.2 L2087.4,540.2 L2091.7,540.2 L2096.0,540.2 L2100.2,540.1 L2104.5,540.1 L2108.7,540.1 L2113.0,540.0 L2117.3,540.0 L2121.5,540.0 L2125.8,540.0 L2130.1,539.9 L2134.3,539.9 L2138.6,539.9 L2142.8,539.9 L2147.1,539.9 L2151.4,539.8 L2155.6,539.8 L2159.9,539.8 L2164.1,539.8 L2168.4,539.8 L2172.7,539.8 L2176.9,539.7 L2181.2,539.7 L2185.5,539.7 L2189.7,539.7 L2194.0,539.7 L2198.2,539.7 L2202.5,539.7 L2206.8,539.7 L2211.0,539.6 L2215.3,539.6 L2219.5,539.6 L2223.8,539.6 L2228.1,539.6 L2232.3,539.6 L2236.6,539.6 L2240.9,539.6 L2245.1,539.6 L2249.4,539.6 L2253.6,539.6 L2257.9,539.6" stroke="#00f"/>
<path d="M472.3,1433.9 L476.5,1433.7 L480.8,1433.5 L485.1,1433.3 L489.3,1433.1 L493.6,1432.9 L497.9,1432.7 L502.1,1432.5 L506.4,1432.2 L510.6,1432.0 L514.9,1431.8 L519.2,1431.5 L523.4,1431.3 L527.7,1431.1 L532.0,1430.8 L536.2,1430.6 L540.5,1430.3 L544.7,1430.0 L549.0,1429.8 L553.3,1429.5 L557.5,1429.2 L561.8,1428.9 L566.0,1428.6 L570.3,1428.3 L574.6,1428.0 L578.8,1427.7 L583.1,1427.4 L587.4,1427.1 L591.6,1426.8 L595.9,1426.4 L600.1,1426.1 L604.4,1425.7 L608.7,1425.4 L612.9,1425.0 L617.2,1424.6 L621.4,1424.2 L625.7,1423.8 L630.0,1423.4 L634.2,1423.0 L638.5,1422.6 L642.8,1422.1 L647.0,1421.7 L651.3,1421.2 L655.5,1420.8 L659.8,1420.3 L664.1,1419.8 L668.3,1419.3 L672.6,1418.8 L676.8,1418.3 L681.1,1417.7 L685.4,1417.2 L689.6,1416.6 L693.9,1416.0 L698.2,1415.4 L702.4,1414.8 L706.7,1414.2 L710.9,1413.5 L715.2,1412.9 L719.5,1412.2 L723.7,1411.5 L728.0,1410.7 L732.2,1410.0 L736.5,1409.2 L740.8,1408.4 L745.0,1407.6 L749.3,1406.8 L753.6,1405.9 L757.8,1405.1 L762.1,1404.1 L766.3,1403.2 L770.6,1402.2 L774.9,1401.2 L779.1,1400.2 L783.4,1399.2 L787.6,1398.1 L791.9,1397.0 L796.2,1395.8 L800.4,1394.6 L804.7,1393.4 L809.0,1392.1 L813.2,1390.8 L817.5,1389.5 L821.7,1388.1 L826.0,1386.6 L830.3,1385.1 L834.5,1383.6 L838.8,1382.0 L843.0,1380.4 L847.3,1378.7 L851.6,1377.0 L855.8,1375.2 L860.1,1373.3 L864.4,1371.4 L868.6,1369.4 L872.9,1367.4 L877.1,1365.2 L881.4,1363.0 L885.7,1360.8 L889.9,1358.4 L894.2,1356.0 L898.4,1353.5 L902.7,1350.9 L907.0,1348.2 L911.2,1345.4 L915.5,1342.6 L919.8,1339.6 L924.0,1336.5 L928.3,1333.4 L932.5,1330.1 L936.8,1326.7 L941.1,1323.2 L945.3,1319.6 L949.6,1315.8 L953.8,1311.9 L958.1,1307.9 L962.4,1303.8 L966.6,1299.5 L970.9,1295.1 L975.2,1290.5 L979.4,1285.8 L983.7,1280.9 L987.9,1275.9 L992.2,1270.7 L996.5,1265.4 L1000.7,1259.9 L1005.0,1254.3 L1009.3,1248.4 L1013.5,1242.4 L1017.8,1236.2 L1022.0,1229.9 L1026.3,1223.3 L1030.6,1216.5 L1034.8,1209.6 L1039.1,1202.3 L1043.3,1194.9 L1047.6,1187.2 L1051.9,1179.2 L1056.1,1170.9 L1060.4,1162.3 L1064.7,1153.4 L1068.9,1144.1 L1073.2,1134.3 L1077.4,1124.2 L1081.7,1113.5 L1086.0,1102.4 L1090.2,1090.7 L1094.5,1078.4 L1098.7,1065.6 L1103.0,1052.0 L1107.3,1037.8 L1111.5,1022.8 L1115.8,1007.1 L1120.1,990.5 L1124.3,973.1 L1128.6,954.8 L1132.8,935.7 L1137.1,915.8 L1141.4,895.2 L1145.6,874.1 L1149.9,852.8 L1154.1,831.6 L1158.4,810.7 L1162.7,790.4 L1166.9,770.8 L1171.2,752.1 L1175.5,734.2 L1179.7,717.2 L1184.0,701.0 L1188.2,685.6 L1192.5,670.9 L1196.8,656.9 L1201.0,643.5 L1205.3,630.7 L1209.5,618.4 L1213.8,606.7 L1218.1,595.4 L1222.3,584.5 L1226.6,574.0 L1230.9,564.0 L1235.1,554.3 L1239.4,545.0 L1243.6,536.0 L1247.9,527.3 L1252.2,518.9 L1256.4,510.8 L1260.7,503.0 L1264.9,495.4 L1269.2,488.1 L1273.5,481.1 L1277.7,474.3 L1282.0,467.7 L1286.3,461.4 L1290.5,455.2 L1294.8,449.3 L1299.0,443.6 L1303.3,438.0 L1307.6,432.7 L1311.8,427.5 L1316.1,422.5 L1320.3,417.6 L1324.6,413.0 L1328.9,408.4 L1333.1,404.1 L1337.4,399.9 L1341.7,395.8 L1345.9,391.8 L1350.2,388.0 L1354.4,384.3 L1358.7,380.8 L1363.0,377.3 L1367.2,374.0 L1371.5,370.8 L1375.7,367.7 L1380.0,364.6 L1384.3,361.7 L1388.5,358.9 L1392.8,356.2 L1397.1,353.6 L1401.3,351.0 L1405.6,348.6 L1409.8,346.2 L1414.1,343.9 L1418.4,341.7 L1422.6,339.5 L1426.9,337.4 L1431.1,335.4 L1435.4,333.5 L1439.7,331.6 L1443.9,329.8 L1448.2,328.0 L1452.5,326.3 L1456.7,324.6 L1461.0,323.0 L1465.2,321.5 L1469.5,320.0 L1473.8,318.5 L1478.0,317.1 L1482.3,315.7 L1486.6,314.4 L1490.8,313.1 L1495.1,311.9 L1499.3,310.7 L1503.6,309.5 L1507.9,308.4 L1512.1,307.3 L1516.4,306.2 L1520.6,305.2 L1524.9,304.2 L1529.2,303.2 L1533.4,302.2 L1537.7,301.3 L1542.0,300.4 L1546.2,299.6 L1550.5,298.7 L1554.7,297.9 L1559.0,297.1 L1563.3,296.3 L1567.5,295.6 L1571.8,294.8 L1576.0,294.1 L1580.3,293.4 L1584.6,292.8 L1588.8,292.1 L1593.1,291.5 L1597.4,290.8 L1601.6,290.2 L1605.9,289.6 L1610.1,289.1 L1614.4,288.5 L1618.7,288.0 L1622.9,287.4 L1627.2,286.9 L1631.4,286.4 L1635.7,285.9 L1640.0,285.4 L1644.2,284.9 L1648.5,284.5 L1652.8,284.0 L1657.0,283.6 L1661.3,283.2 L1665.5,282.8 L1669.8,282.3 L1674.1,281.9 L1678.3,281.6 L1682.6,281.2 L1686.8,280.8 L1691.1,280.4 L1695.4,280.1 L1699.6,279.7 L1703.9,279.4 L1708.2,279.1 L1712.4,278.7 L1716.7,278.4 L1720.9,278.1 L1725.2,277.8 L1729.5,277.5 L1733.7,277.2 L1738.0,276.9 L1742.2,276.6 L1746.5,276.3 L1750.8,276.1 L1755.0,275.8 L1759.3,275.5 L1763.6,275.3 L1767.8,275.0 L1772.1,274.8 L1776.3,274.6 L1780.6,274.3 L1784.9,274.1 L1789.1,273.9 L1793.4,273.6 L1797.6,273.4 L1801.9,273.2 L1806.2,273.0 L1810.4,272.8 L1814.7,272.6 L1819.0,272.4 L1823.2,272.2 L1827.5,272.0 L1831.7,271.8 L1836.0,271.6 L1840.3,271.4 L1844.5,271.2 L1848.8,271.1 L1853.0,270.9 L1857.3,270.7 L1861.6,270.6 L1865.8,270.4 L1870.1,270.2 L1874.4,270.1 L1878.6,269.9 L1882.9,269.7 L1887.1,269.6 L1891.4,269.4 L1895.7,269.3 L1899.9,269.2 L1904.2,269.0 L1908.4,268.9 L1912.7,268.7 L1917.0,268.6 L1921.2,268.5 L1925.5,268.3 L1929.8,268.2 L1934.0,268.1 L1938.3,267.9 L1942.5,267.8 L1946.8,267.7 L1951.1,267.6 L1955.3,267.5 L1959.6,267.3 L1963.8,267.2 L1968.1,267.1 L1972.4,267.0 L1976.6,266.9 L1980.9,266.8 L1985.2,266.7 L1989.4,266.6 L1993.7,266.5 L1997.9,266.4 L2002.2,266.3 L2006.5,266.2 L2010.7,266.1 L2015.0,266.0 L2019.3,265.9 L2023.5,265.8 L2027.8,265.7 L2032.0,265.6 L2036.3,265.5 L2040.6,265.4 L2044.8,265.3 L2049.1,265.3 L2053.3,265.2 L2057.6,265.1 L2061.9,265.0 L2066.1,264.9 L2070.4,264.8 L2074.7,264.8 L2078.9,264.7 L2083.2,264.6 L2087.4,264.5 L2091.7,264.5 L2096.0,264.4 L2100.2,264.3 L2104.5,264.2 L2108.7,264.2 L2113.0,264.1 L2117.3,264.0 L2121.5,264.0 L2125.8,263.9 L2130.1,263.8 L2134.3,263.8 L2138.6,263.7 L2142.8,263.7 L2147.1,263.6 L2151.4,263.5 L2155.6,263.5 L2159.9,263.4 L2164.1,263.4 L2168.4,263.3 L2172.7,263.2 L2176.9,263.2 L2181.2,263.1 L2185.5,263.1 L2189.7,263.0 L2194.0,263.0 L2198.2,262.9 L2202.5,262.9 L2206.8,262.8 L2211.0,262.8 L2215.3,262.7 L2219.5,262.7 L2223.8,262.6 L2228.1,262.6 L2232.3,262.5 L2236.6,262.5 L2240.9,262.5 L2245.1,262.4 L2249.4,262.4 L2253.6,262.3 L2257.9,262.3" stroke="#f0f"/>
<path d="M472.3,1434.2 L476.5,1434.0 L480.8,1433.8 L485.1,1433.6 L489.3,1433.4 L493.6,1433.2 L497.9,1433.0 L502.1,1432.8 L506.4,1432.5 L510.6,1432.3 L514.9,1432.1 L519.2,1431.9 L523.4,1431.6 L527.7,1431.4 L532.0,1431.1 L536.2,1430.9 L540.5,1430.6 L544.7,1430.4 L549.0,1430.1 L553.3,1429.9 L557.5,1429.6 L561.8,1429.3 L566.0,1429.0 L570.3,1428.7 L574.6,1428.4 L578.8,1428.1 L583.1,1427.8 L587.4,1427.5 L591.6,1427.2 L595.9,1426.9 L600.1,1426.5 L604.4,1426.2 L608.7,1425.8 L612.9,1425.5 L617.2,1425.1 L621.4,1424.7 L625.7,1424.4 L630.0,1424.0 L634.2,1423.6 L638.5,1423.1 L642.8,1422.7 L647.0,1422.3 L651.3,1421.9 L655.5,1421.4 L659.8,1420.9 L664.1,1420.5 L668.3,1420.0 L672.6,1419.5 L676.8,1419.0 L681.1,1418.5 L685.4,1417.9 L689.6,1417.4 L693.9,1416.8 L698.2,1416.2 L702.4,1415.6 L706.7,1415.0 L710.9,1414.4 L715.2,1413.7 L719.5,1413.1 L723.7,1412.4 L728.0,1411.7 L732.2,1411.0 L736.5,1410.2 L740.8,1409.5 L745.0,1408.7 L749.3,1407.9 L753.6,1407.1 L757.8,1406.2 L762.1,1405.4 L766.3,1404.5 L770.6,1403.5 L774.9,1402.6 L779.1,1401.6 L783.4,1400.6 L787.6,1399.5 L791.9,1398.5 L796.2,1397.3 L800.4,1396.2 L804.7,1395.0 L809.0,1393.8 L813.2,1392.6 L817.5,1391.3 L821.7,1389.9 L826.0,1388.5 L830.3,1387.1 L834.5,1385.7 L838.8,1384.1 L843.0,1382.6 L847.3,1381.0 L851.6,1379.3 L855.8,1377.6 L860.1,1375.8 L864.4,1374.0 L868.6,1372.1 L872.9,1370.1 L877.1,1368.1 L881.4,1366.0 L885.7,1363.8 L889.9,1361.6 L894.2,1359.2 L898.4,1356.8 L902.7,1354.4 L907.0,1351.8 L911.2,1349.1 L915.5,1346.4 L919.8,1343.6 L924.0,1340.6 L928.3,1337.6 L932.5,1334.5 L936.8,1331.2 L941.1,1327.9 L945.3,1324.4 L949.6,1320.8 L953.8,1317.1 L958.1,1313.3 L962.4,1309.3 L966.6,1305.2 L970.9,1301.0 L975.2,1296.7 L979.4,1292.1 L983.7,1287.5 L987.9,1282.7 L992.2,1277.8 L996.5,1272.7 L1000.7,1267.4 L1005.0,1262.0 L1009.3,1256.4 L1013.5,1250.7 L1017.8,1244.8 L1022.0,1238.7 L1026.3,1232.4 L1030.6,1226.0 L1034.8,1219.3 L1039.1,1212.4 L1043.3,1205.3 L1047.6,1198.0 L1051.9,1190.4 L1056.1,1182.5 L1060.4,1174.3 L1064.7,1165.8 L1068.9,1156.9 L1073.2,1147.6 L1077.4,1137.9 L1081.7,1127.8 L1086.0,1117.3 L1090.2,1106.2 L1094.5,1094.6 L1098.7,1082.4 L1103.0,1069.6 L1107.3,1056.2 L1111.5,1042.1 L1115.8,1027.2 L1120.1,1011.7 L1124.3,995.3 L1128.6,978.1 L1132.8,960.0 L1137.1,941.1 L1141.4,921.5 L1145.6,901.1 L1149.9,880.2 L1154.1,859.0 L1158.4,837.8 L1162.7,816.9 L1166.9,796.5 L1171.2,776.8 L1175.5,757.8 L1179.7,739.8 L1184.0,722.6 L1188.2,706.2 L1192.5,690.6 L1196.8,675.7 L1201.0,661.5 L1205.3,647.9 L1209.5,634.9 L1213.8,622.5 L1218.1,610.6 L1222.3,599.1 L1226.6,588.1 L1230.9,577.6 L1235.1,567.4 L1239.4,557.6 L1243.6,548.1 L1247.9,539.0 L1252.2,530.2 L1256.4,521.7 L1260.7,513.5 L1264.9,505.6 L1269.2,498.0 L1273.5,490.6 L1277.7,483.5 L1282.0,476.6 L1286.3,470.0 L1290.5,463.5 L1294.8,457.3 L1299.0,451.3 L1303.3,445.5 L1307.6,439.9 L1311.8,434.5 L1316.1,429.2 L1320.3,424.2 L1324.6,419.3 L1328.9,414.6 L1333.1,410.0 L1337.4,405.6 L1341.7,401.3 L1345.9,397.2 L1350.2,393.2 L1354.4,389.3 L1358.7,385.6 L1363.0,382.0 L1367.2,378.5 L1371.5,375.1 L1375.7,371.9 L1380.0,368.7 L1384.3,365.7 L1388.5,362.7 L1392.8,359.9 L1397.1,357.1 L1401.3,354.5 L1405.6,351.9 L1409.8,349.4 L1414.1,347.0 L1418.4,344.7 L1422.6,342.4 L1426.9,340.3 L1431.1,338.1 L1435.4,336.1 L1439.7,334.1 L1443.9,332.2 L1448.2,330.4 L1452.5,328.6 L1456.7,326.9 L1461.0,325.2 L1465.2,323.6 L1469.5,322.0 L1473.8,320.5 L1478.0,319.0 L1482.3,317.6 L1486.6,316.2 L1490.8,314.9 L1495.1,313.6 L1499.3,312.3 L1503.6,311.1 L1507.9,309.9 L1512.1,308.8 L1516.4,307.7 L1520.6,306.6 L1524.9,305.5 L1529.2,304.5 L1533.4,303.5 L1537.7,302.6 L1542.0,301.6 L1546.2,300.7 L1550.5,299.9 L1554.7,299.0 L1559.0,298.2 L1563.3,297.4 L1567.5,296.6 L1571.8,295.8 L1576.0,295.1 L1580.3,294.4 L1584.6,293.7 L1588.8,293.0 L1593.1,292.3 L1597.4,291.7 L1601.6,291.0 L1605.9,290.4 L1610.1,289.8 L1614.4,289.3 L1618.7,288.7 L1622.9,288.1 L1627.2,287.6 L1631.4,287.1 L1635.7,286.6 L1640.0,286.1 L1644.2,285.6 L1648.5,285.1 L1652.8,284.6 L1657.0,284.2 L1661.3,283.7 L1665.5,283.3 L1669.8,282.9 L1674.1,282.5 L1678.3,282.1 L1682.6,281.7 L1686.8,281.3 L1691.1,280.9 L1695.4,280.6 L1699.6,280.2 L1703.9,279.8 L1708.2,279.5 L1712.4,279.2 L1716.7,278.8 L1720.9,278.5 L1725.2,278.2 L1729.5,277.9 L1733.7,277.6 L1738.0,277.3 L1742.2,277.0 L1746.5,276.7 L1750.8,276.4 L1755.0,276.2 L1759.3,275.9 L1763.6,275.6 L1767.8,275.4 L1772.1,275.1 L1776.3,274.9 L1780.6,274.6 L1784.9,274.4 L1789.1,274.2 L1793.4,273.9 L1797.6,273.7 L1801.9,273.5 L1806.2,273.3 L1810.4,273.1 L1814.7,272.8 L1819.0,272.6 L1823.2,272.4 L1827.5,272.2 L1831.7,272.0 L1836.0,271.9 L1840.3,271.7 L1844.5,271.5 L1848.8,271.3 L1853.0,271.1 L1857.3,270.9 L1861.6,270.8 L1865.8,270.6 L1870.1,270.4 L1874.4,270.3 L1878.6,270.1 L1882.9,270.0 L1887.1,269.8 L1891.4,269.6 L1895.7,269.5 L1899.9,269.3 L1904.2,269.2 L1908.4,269.1 L1912.7,268.9 L1917.0,268.8 L1921.2,268.6 L1925.5,268.5 L1929.8,268.4 L1934.0,268.2 L1938.3,268.1 L1942.5,268.0 L1946.8,267.9 L1951.1,267.7 L1955.3,267.6 L1959.6,267.5 L1963.8,267.4 L1968.1,267.3 L1972.4,267.2 L1976.6,267.0 L1980.9,266.9 L1985.2,266.8 L1989.4,266.7 L1993.7,266.6 L1997.9,266.5 L2002.2,266.4 L2006.5,266.3 L2010.7,266.2 L2015.0,266.1 L2019.3,266.0 L2023.5,265.9 L2027.8,265.8 L2032.0,265.7 L2036.3,265.6 L2040.6,265.5 L2044.8,265.5 L2049.1,265.4 L2053.3,265.3 L2057.6,265.2 L2061.9,265.1 L2066.1,265.0 L2070.4,265.0 L2074.7,264.9 L2078.9,264.8 L2083.2,264.7 L2087.4,264.6 L2091.7,264.6 L2096.0,264.5 L2100.2,264.4 L2104.5,264.3 L2108.7,264.3 L2113.0,264.2 L2117.3,264.1 L2121.5,264.1 L2125.8,264.0 L2130.1,263.9 L2134.3,263.9 L2138.6,263.8 L2142.8,263.7 L2147.1,263.7 L2151.4,263.6 L2155.6,263.6 L2159.9,263.5 L2164.1,263.4 L2168.4,263.4 L2172.7,263.3 L2176.9,263.3 L2181.2,263.2 L2185.5,263.2 L2189.7,263.1 L2194.0,263.0 L2198.2,263.0 L2202.5,262.9 L2206.8,262.9 L2211.0,262.8 L2215.3,262.8 L2219.5,262.7 L2223.8,262.7 L2228.1,262.7 L2232.3,262.6 L2236.6,262.6 L2240.9,262.5 L2245.1,262.5 L2249.4,262.4 L2253.6,262.4 L2257.9,262.3" stroke="#f0f"/>
</g>
<g stroke="#000" fill="none" stroke-width="5.5">
<line x1="452.5" y1="174.0" x2="2272.8" y2="174.0"/>
<line x1="452.5" y1="1532.7" x2="2272.8" y2="1532.7"/>
<line x1="481.2" y1="174.0" x2="481.2" y2="1546.2"/>
<line x1="2270.0" y1="174.0" x2="2270.0" y2="1546.2"/>
</g>
<g stroke="#000" fill="none" stroke-width="5.0">
<line x1="466.5" y1="259.7" x2="481.2" y2="259.7"/>
<line x1="2255.5" y1="259.7" x2="2270.0" y2="259.7"/>
<line x1="452.5" y1="344.9" x2="481.2" y2="344.9"/>
<line x1="2239.4" y1="344.9" x2="2270.0" y2="344.9"/>
<line x1="466.5" y1="428.8" x2="481.2" y2="428.8"/>
<line x1="2255.5" y1="428.8" x2="2270.0" y2="428.8"/>
<line x1="452.5" y1="514.0" x2="481.2" y2="514.0"/>
<line x1="2239.4" y1="514.0" x2="2270.0" y2="514.0"/>
<line x1="466.5" y1="598.7" x2="481.2" y2="598.7"/>
<line x1="2255.5" y1="598.7" x2="2270.0" y2="598.7"/>
<line x1="452.5" y1="684.4" x2="481.2" y2="684.4"/>
<line x1="2239.4" y1="684.4" x2="2270.0" y2="684.4"/>
<line x1="466.5" y1="770.1" x2="481.2" y2="770.1"/>
<line x1="2255.5" y1="770.1" x2="2270.0" y2="770.1"/>
<line x1="466.5" y1="940.0" x2="481.2" y2="940.0"/>
<line x1="2255.5" y1="940.0" x2="2270.0" y2="940.0"/>
<line x1="452.5" y1="1023.3" x2="481.2" y2="1023.3"/>
<line x1="2239.4" y1="1023.3" x2="2270.0" y2="1023.3"/>
<line x1="466.5" y1="1110.0" x2="481.2" y2="1110.0"/>
<line x1="2255.5" y1="1110.0" x2="2270.0" y2="1110.0"/>
<line x1="452.5" y1="1192.4" x2="481.2" y2="1192.4"/>
<line x1="2239.4" y1="1192.4" x2="2270.0" y2="1192.4"/>
<line x1="466.5" y1="1279.6" x2="481.2" y2="1279.6"/>
<line x1="2255.5" y1="1279.6" x2="2270.0" y2="1279.6"/>
<line x1="452.5" y1="1364.0" x2="481.2" y2="1364.0"/>
<line x1="2239.4" y1="1364.0" x2="2270.0" y2="1364.0"/>
<line x1="466.5" y1="1448.5" x2="481.2" y2="1448.5"/>
<line x1="2255.5" y1="1448.5" x2="2270.0" y2="1448.5"/>
<line x1="2239.4" y1="853.3" x2="2270.0" y2="853.3"/>
<line x1="705.5" y1="1532.7" x2="705.5" y2="1560.2"/>
<line x1="705.5" y1="174.0" x2="705.5" y2="201.3"/>
<line x1="928.7" y1="1532.7" x2="928.7" y2="1546.2"/>
<line x1="928.7" y1="174.0" x2="928.7" y2="187.0"/>
<line x1="1375.5" y1="1532.7" x2="1375.5" y2="1546.2"/>
<line x1="1375.5" y1="174.0" x2="1375.5" y2="187.0"/>
<line x1="1598.9" y1="1532.7" x2="1598.9" y2="1560.2"/>
<line x1="1598.9" y1="174.0" x2="1598.9" y2="201.3"/>
<line x1="1823.0" y1="1532.7" x2="1823.0" y2="1546.2"/>
<line x1="1823.0" y1="174.0" x2="1823.0" y2="187.0"/>
<line x1="2046.0" y1="1532.7" x2="2046.0" y2="1560.2"/>
<line x1="2046.0" y1="174.0" x2="2046.0" y2="201.3"/>
</g>
<g fill="none">
<line x1="1555.5" y1="1360.1" x2="2270.0" y2="1360.1" stroke-width="2.2" stroke="#999"/>
<line x1="1555.5" y1="1237.2" x2="2270.0" y2="1237.2" stroke-width="2.2" stroke="#999"/>
<line x1="1555.5" y1="1112.2" x2="2270.0" y2="1112.2" stroke-width="2.2" stroke="#999"/>
<line x1="1647.0" y1="990.6" x2="1647.0" y2="1532.7" stroke-width="2.2" stroke="#999"/>
<line x1="1831.7" y1="990.6" x2="1831.7" y2="1532.7" stroke-width="2.2" stroke="#999"/>
<line x1="2019.0" y1="990.6" x2="2019.0" y2="1532.7" stroke-width="2.2" stroke="#999"/>
<line x1="1555.5" y1="1422.3" x2="2270.0" y2="1422.3" stroke-width="2.2" stroke="#cfcfcf" stroke-dasharray="2.4 4.8"/>
<line x1="1555.5" y1="1297.5" x2="2270.0" y2="1297.5" stroke-width="2.2" stroke="#cfcfcf" stroke-dasharray="2.4 4.8"/>
<line x1="1555.5" y1="1174.9" x2="2270.0" y2="1174.9" stroke-width="2.2" stroke="#cfcfcf" stroke-dasharray="2.4 4.8"/>
<line x1="1555.5" y1="1050.9" x2="2270.0" y2="1050.9" stroke-width="2.2" stroke="#cfcfcf" stroke-dasharray="2.4 4.8"/>
<line x1="1739.3" y1="990.6" x2="1739.3" y2="1532.7" stroke-width="2.2" stroke="#cfcfcf" stroke-dasharray="2.4 4.8"/>
<line x1="1926.5" y1="990.6" x2="1926.5" y2="1532.7" stroke-width="2.2" stroke="#cfcfcf" stroke-dasharray="2.4 4.8"/>
<line x1="2111.5" y1="990.6" x2="2111.5" y2="1532.7" stroke-width="2.2" stroke="#cfcfcf" stroke-dasharray="2.4 4.8"/>
<line x1="1525.3" y1="1482.8" x2="2270.0" y2="1482.8" stroke-width="4.6" stroke="#000"/>
</g>
<g clip-path="url(#ci)" fill="none" stroke-width="12.0" stroke-linecap="butt" stroke-linejoin="round">
<path d="M1516.8,1655.6 L1521.9,1647.8 L1526.9,1639.7 L1531.9,1631.4 L1536.9,1622.8 L1541.9,1613.9 L1546.9,1604.8 L1552.0,1595.5 L1557.0,1585.9 L1562.0,1576.1 L1567.0,1566.0 L1572.0,1555.7 L1577.0,1545.2 L1582.1,1534.5 L1587.1,1523.7 L1592.1,1512.7 L1597.1,1501.5 L1602.1,1490.2 L1607.1,1478.8 L1612.2,1467.4 L1617.2,1455.9 L1622.2,1444.4 L1627.2,1432.8 L1632.2,1421.3 L1637.2,1409.9 L1642.3,1398.5 L1647.3,1387.2 L1652.3,1376.1 L1657.3,1365.1 L1662.3,1354.2 L1667.3,1343.6 L1672.4,1333.1 L1677.4,1322.9 L1682.4,1312.9 L1687.4,1303.2 L1692.4,1293.7 L1697.4,1284.5 L1702.5,1275.6 L1707.5,1267.0 L1712.5,1258.6 L1717.5,1250.6 L1722.5,1242.8 L1727.5,1235.4 L1732.6,1228.2 L1737.6,1221.3 L1742.6,1214.7 L1747.6,1208.4 L1752.6,1202.3 L1757.6,1196.5 L1762.7,1191.0 L1767.7,1185.7 L1772.7,1180.7 L1777.7,1175.9 L1782.7,1171.3 L1787.7,1166.9 L1792.8,1162.8 L1797.8,1158.8 L1802.8,1155.1 L1807.8,1151.5 L1812.8,1148.1 L1817.8,1144.9 L1822.9,1141.8 L1827.9,1138.9 L1832.9,1136.1 L1837.9,1133.5 L1842.9,1131.0 L1847.9,1128.6 L1853.0,1126.4 L1858.0,1124.2 L1863.0,1122.2 L1868.0,1120.2 L1873.0,1118.4 L1878.0,1116.6 L1883.1,1115.0 L1888.1,1113.4 L1893.1,1111.9 L1898.1,1110.4 L1903.1,1109.1 L1908.1,1107.8 L1913.2,1106.5 L1918.2,1105.4 L1923.2,1104.2 L1928.2,1103.2 L1933.2,1102.1 L1938.2,1101.2 L1943.3,1100.2 L1948.3,1099.3 L1953.3,1098.5 L1958.3,1097.7 L1963.3,1096.9 L1968.3,1096.2 L1973.4,1095.4 L1978.4,1094.8 L1983.4,1094.1 L1988.4,1093.5 L1993.4,1092.9 L1998.4,1092.3 L2003.5,1091.8 L2008.5,1091.3 L2013.5,1090.7 L2018.5,1090.3 L2023.5,1089.8 L2028.5,1089.4 L2033.6,1088.9 L2038.6,1088.5 L2043.6,1088.1 L2048.6,1087.7 L2053.6,1087.4 L2058.6,1087.0 L2063.7,1086.7 L2068.7,1086.4 L2073.7,1086.0 L2078.7,1085.7 L2083.7,1085.4 L2088.8,1085.2 L2093.8,1084.9 L2098.8,1084.6 L2103.8,1084.4 L2108.8,1084.1 L2113.8,1083.9 L2118.8,1083.7 L2123.9,1083.4 L2128.9,1083.2 L2133.9,1083.0 L2138.9,1082.8 L2143.9,1082.6 L2148.9,1082.4 L2154.0,1082.2 L2159.0,1082.1 L2164.0,1081.9 L2169.0,1081.7 L2174.0,1081.6 L2179.0,1081.4 L2184.1,1081.3 L2189.1,1081.1 L2194.1,1081.0 L2199.1,1080.8 L2204.1,1080.7 L2209.1,1080.6 L2214.2,1080.4 L2219.2,1080.3 L2224.2,1080.2 L2229.2,1080.1 L2234.2,1080.0 L2239.2,1079.8 L2244.3,1079.7 L2249.3,1079.6 L2254.3,1079.5 L2259.3,1079.4 L2264.3,1079.3 L2269.3,1079.2 L2274.4,1079.1 L2279.4,1079.0 L2284.4,1078.9 L2289.4,1078.8 L2294.4,1078.8 L2299.4,1078.7 L2304.5,1078.6 L2309.5,1078.5 L2314.5,1078.4" stroke="#000"/>
<path d="M1516.8,1722.3 L1521.9,1715.3 L1526.9,1708.2 L1531.9,1700.8 L1536.9,1693.3 L1541.9,1685.6 L1546.9,1677.6 L1552.0,1669.5 L1557.0,1661.1 L1562.0,1652.6 L1567.0,1643.8 L1572.0,1634.8 L1577.0,1625.6 L1582.1,1616.3 L1587.1,1606.7 L1592.1,1596.9 L1597.1,1586.9 L1602.1,1576.8 L1607.1,1566.5 L1612.2,1556.1 L1617.2,1545.5 L1622.2,1534.9 L1627.2,1524.1 L1632.2,1513.2 L1637.2,1502.3 L1642.3,1491.4 L1647.3,1480.5 L1652.3,1469.6 L1657.3,1458.7 L1662.3,1448.0 L1667.3,1437.3 L1672.4,1426.7 L1677.4,1416.3 L1682.4,1406.0 L1687.4,1395.9 L1692.4,1386.1 L1697.4,1376.4 L1702.5,1367.0 L1707.5,1357.8 L1712.5,1348.9 L1717.5,1340.3 L1722.5,1331.9 L1727.5,1323.7 L1732.6,1315.9 L1737.6,1308.3 L1742.6,1301.0 L1747.6,1294.0 L1752.6,1287.2 L1757.6,1280.7 L1762.7,1274.4 L1767.7,1268.4 L1772.7,1262.6 L1777.7,1257.0 L1782.7,1251.7 L1787.7,1246.6 L1792.8,1241.7 L1797.8,1237.0 L1802.8,1232.5 L1807.8,1228.1 L1812.8,1223.9 L1817.8,1219.9 L1822.9,1216.1 L1827.9,1212.4 L1832.9,1208.8 L1837.9,1205.4 L1842.9,1202.1 L1847.9,1199.0 L1853.0,1195.9 L1858.0,1193.0 L1863.0,1190.1 L1868.0,1187.4 L1873.0,1184.8 L1878.0,1182.2 L1883.1,1179.8 L1888.1,1177.4 L1893.1,1175.1 L1898.1,1172.9 L1903.1,1170.7 L1908.1,1168.6 L1913.2,1166.6 L1918.2,1164.7 L1923.2,1162.7 L1928.2,1160.9 L1933.2,1159.1 L1938.2,1157.3 L1943.3,1155.6 L1948.3,1154.0 L1953.3,1152.4 L1958.3,1150.8 L1963.3,1149.3 L1968.3,1147.8 L1973.4,1146.3 L1978.4,1144.9 L1983.4,1143.5 L1988.4,1142.1 L1993.4,1140.8 L1998.4,1139.4 L2003.5,1138.1 L2008.5,1136.9 L2013.5,1135.6 L2018.5,1134.4 L2023.5,1133.2 L2028.5,1132.1 L2033.6,1130.9 L2038.6,1129.8 L2043.6,1128.6 L2048.6,1127.5 L2053.6,1126.4 L2058.6,1125.4 L2063.7,1124.3 L2068.7,1123.3 L2073.7,1122.2 L2078.7,1121.2 L2083.7,1120.2 L2088.8,1119.2 L2093.8,1118.2 L2098.8,1117.3 L2103.8,1116.3 L2108.8,1115.4 L2113.8,1114.4 L2118.8,1113.5 L2123.9,1112.6 L2128.9,1111.7 L2133.9,1110.8 L2138.9,1109.9 L2143.9,1109.0 L2148.9,1108.1 L2154.0,1107.2 L2159.0,1106.4 L2164.0,1105.5 L2169.0,1104.7 L2174.0,1103.8 L2179.0,1103.0 L2184.1,1102.1 L2189.1,1101.3 L2194.1,1100.5 L2199.1,1099.7 L2204.1,1098.9 L2209.1,1098.1 L2214.2,1097.3 L2219.2,1096.5 L2224.2,1095.7 L2229.2,1095.0 L2234.2,1094.2 L2239.2,1093.4 L2244.3,1092.7 L2249.3,1091.9 L2254.3,1091.2 L2259.3,1090.4 L2264.3,1089.7 L2269.3,1089.0 L2274.4,1088.3 L2279.4,1087.5 L2284.4,1086.8 L2289.4,1086.1 L2294.4,1085.4 L2299.4,1084.7 L2304.5,1084.0 L2309.5,1083.3 L2314.5,1082.7" stroke="#f00"/>
<path d="M1516.8,1772.5 L1521.9,1765.4 L1526.9,1758.1 L1531.9,1750.7 L1536.9,1743.1 L1541.9,1735.4 L1546.9,1727.5 L1552.0,1719.4 L1557.0,1711.2 L1562.0,1702.8 L1567.0,1694.3 L1572.0,1685.6 L1577.0,1676.7 L1582.1,1667.6 L1587.1,1658.4 L1592.1,1649.0 L1597.1,1639.4 L1602.1,1629.6 L1607.1,1619.6 L1612.2,1609.5 L1617.2,1599.1 L1622.2,1588.6 L1627.2,1577.9 L1632.2,1567.0 L1637.2,1556.0 L1642.3,1544.9 L1647.3,1533.7 L1652.3,1522.5 L1657.3,1511.3 L1662.3,1500.3 L1667.3,1489.3 L1672.4,1478.6 L1677.4,1468.0 L1682.4,1457.8 L1687.4,1447.7 L1692.4,1438.0 L1697.4,1428.6 L1702.5,1419.4 L1707.5,1410.5 L1712.5,1402.0 L1717.5,1393.7 L1722.5,1385.6 L1727.5,1377.8 L1732.6,1370.3 L1737.6,1363.0 L1742.6,1355.9 L1747.6,1349.1 L1752.6,1342.4 L1757.6,1336.0 L1762.7,1329.7 L1767.7,1323.7 L1772.7,1317.8 L1777.7,1312.1 L1782.7,1306.6 L1787.7,1301.2 L1792.8,1296.0 L1797.8,1290.9 L1802.8,1286.0 L1807.8,1281.2 L1812.8,1276.6 L1817.8,1272.1 L1822.9,1267.7 L1827.9,1263.4 L1832.9,1259.3 L1837.9,1255.3 L1842.9,1251.4 L1847.9,1247.6 L1853.0,1243.9 L1858.0,1240.3 L1863.0,1236.7 L1868.0,1233.3 L1873.0,1230.0 L1878.0,1226.7 L1883.1,1223.6 L1888.1,1220.5 L1893.1,1217.5 L1898.1,1214.5 L1903.1,1211.7 L1908.1,1208.8 L1913.2,1206.1 L1918.2,1203.4 L1923.2,1200.8 L1928.2,1198.2 L1933.2,1195.7 L1938.2,1193.2 L1943.3,1190.7 L1948.3,1188.4 L1953.3,1186.0 L1958.3,1183.7 L1963.3,1181.4 L1968.3,1179.2 L1973.4,1177.0 L1978.4,1174.8 L1983.4,1172.7 L1988.4,1170.6 L1993.4,1168.5 L1998.4,1166.4 L2003.5,1164.4 L2008.5,1162.4 L2013.5,1160.4 L2018.5,1158.4 L2023.5,1156.5 L2028.5,1154.5 L2033.6,1152.6 L2038.6,1150.7 L2043.6,1148.8 L2048.6,1146.9 L2053.6,1145.1 L2058.6,1143.2 L2063.7,1141.3 L2068.7,1139.5 L2073.7,1137.7 L2078.7,1135.9 L2083.7,1134.1 L2088.8,1132.3 L2093.8,1130.5 L2098.8,1128.7 L2103.8,1126.9 L2108.8,1125.1 L2113.8,1123.4 L2118.8,1121.6 L2123.9,1119.9 L2128.9,1118.1 L2133.9,1116.4 L2138.9,1114.7 L2143.9,1112.9 L2148.9,1111.2 L2154.0,1109.5 L2159.0,1107.8 L2164.0,1106.1 L2169.0,1104.4 L2174.0,1102.8 L2179.0,1101.1 L2184.1,1099.4 L2189.1,1097.8 L2194.1,1096.1 L2199.1,1094.5 L2204.1,1092.8 L2209.1,1091.2 L2214.2,1089.6 L2219.2,1088.0 L2224.2,1086.4 L2229.2,1084.8 L2234.2,1083.3 L2239.2,1081.7 L2244.3,1080.2 L2249.3,1078.6 L2254.3,1077.1 L2259.3,1075.6 L2264.3,1074.1 L2269.3,1072.6 L2274.4,1071.1 L2279.4,1069.7 L2284.4,1068.2 L2289.4,1066.8 L2294.4,1065.4 L2299.4,1064.0 L2304.5,1062.6 L2309.5,1061.2 L2314.5,1059.9" stroke="#0f0"/>
<path d="M1516.8,1836.9 L1521.9,1830.5 L1526.9,1824.0 L1531.9,1817.3 L1536.9,1810.5 L1541.9,1803.6 L1546.9,1796.5 L1552.0,1789.3 L1557.0,1782.0 L1562.0,1774.5 L1567.0,1766.9 L1572.0,1759.2 L1577.0,1751.4 L1582.1,1743.4 L1587.1,1735.3 L1592.1,1727.1 L1597.1,1718.8 L1602.1,1710.3 L1607.1,1701.8 L1612.2,1693.1 L1617.2,1684.3 L1622.2,1675.3 L1627.2,1666.3 L1632.2,1657.1 L1637.2,1647.8 L1642.3,1638.4 L1647.3,1628.8 L1652.3,1619.1 L1657.3,1609.3 L1662.3,1599.4 L1667.3,1589.4 L1672.4,1579.4 L1677.4,1569.4 L1682.4,1559.3 L1687.4,1549.3 L1692.4,1539.4 L1697.4,1529.6 L1702.5,1520.0 L1707.5,1510.6 L1712.5,1501.3 L1717.5,1492.4 L1722.5,1483.6 L1727.5,1475.1 L1732.6,1466.9 L1737.6,1458.9 L1742.6,1451.1 L1747.6,1443.6 L1752.6,1436.3 L1757.6,1429.2 L1762.7,1422.3 L1767.7,1415.7 L1772.7,1409.2 L1777.7,1402.9 L1782.7,1396.7 L1787.7,1390.8 L1792.8,1385.0 L1797.8,1379.3 L1802.8,1373.8 L1807.8,1368.4 L1812.8,1363.2 L1817.8,1358.1 L1822.9,1353.1 L1827.9,1348.2 L1832.9,1343.4 L1837.9,1338.8 L1842.9,1334.2 L1847.9,1329.8 L1853.0,1325.4 L1858.0,1321.1 L1863.0,1316.9 L1868.0,1312.8 L1873.0,1308.8 L1878.0,1304.8 L1883.1,1300.9 L1888.1,1297.1 L1893.1,1293.3 L1898.1,1289.6 L1903.1,1285.9 L1908.1,1282.3 L1913.2,1278.8 L1918.2,1275.3 L1923.2,1271.8 L1928.2,1268.4 L1933.2,1265.0 L1938.2,1261.6 L1943.3,1258.3 L1948.3,1255.0 L1953.3,1251.8 L1958.3,1248.5 L1963.3,1245.3 L1968.3,1242.2 L1973.4,1239.0 L1978.4,1235.9 L1983.4,1232.7 L1988.4,1229.6 L1993.4,1226.5 L1998.4,1223.5 L2003.5,1220.4 L2008.5,1217.3 L2013.5,1214.3 L2018.5,1211.3 L2023.5,1208.3 L2028.5,1205.2 L2033.6,1202.2 L2038.6,1199.2 L2043.6,1196.3 L2048.6,1193.3 L2053.6,1190.3 L2058.6,1187.3 L2063.7,1184.4 L2068.7,1181.4 L2073.7,1178.5 L2078.7,1175.6 L2083.7,1172.6 L2088.8,1169.7 L2093.8,1166.8 L2098.8,1163.9 L2103.8,1161.0 L2108.8,1158.1 L2113.8,1155.2 L2118.8,1152.4 L2123.9,1149.5 L2128.9,1146.7 L2133.9,1143.9 L2138.9,1141.0 L2143.9,1138.2 L2148.9,1135.4 L2154.0,1132.7 L2159.0,1129.9 L2164.0,1127.2 L2169.0,1124.4 L2174.0,1121.7 L2179.0,1119.0 L2184.1,1116.4 L2189.1,1113.7 L2194.1,1111.1 L2199.1,1108.5 L2204.1,1105.9 L2209.1,1103.3 L2214.2,1100.8 L2219.2,1098.2 L2224.2,1095.7 L2229.2,1093.2 L2234.2,1090.8 L2239.2,1088.4 L2244.3,1086.0 L2249.3,1083.6 L2254.3,1081.2 L2259.3,1078.9 L2264.3,1076.6 L2269.3,1074.3 L2274.4,1072.1 L2279.4,1069.9 L2284.4,1067.7 L2289.4,1065.5 L2294.4,1063.4 L2299.4,1061.3 L2304.5,1059.2 L2309.5,1057.1 L2314.5,1055.1" stroke="#00f"/>
<path d="M1516.8,2452.6 L1521.9,2451.2 L1526.9,2449.7 L1531.9,2448.2 L1536.9,2446.6 L1541.9,2445.1 L1546.9,2443.5 L1552.0,2441.8 L1557.0,2440.2 L1562.0,2438.5 L1567.0,2436.8 L1572.0,2435.0 L1577.0,2433.3 L1582.1,2431.5 L1587.1,2429.6 L1592.1,2427.7 L1597.1,2425.8 L1602.1,2423.9 L1607.1,2421.9 L1612.2,2419.8 L1617.2,2417.8 L1622.2,2415.7 L1627.2,2413.5 L1632.2,2411.4 L1637.2,2409.1 L1642.3,2406.9 L1647.3,2404.6 L1652.3,2402.2 L1657.3,2399.8 L1662.3,2397.4 L1667.3,2394.9 L1672.4,2392.3 L1677.4,2389.7 L1682.4,2387.1 L1687.4,2384.4 L1692.4,2381.7 L1697.4,2378.9 L1702.5,2376.0 L1707.5,2373.1 L1712.5,2370.2 L1717.5,2367.1 L1722.5,2364.1 L1727.5,2360.9 L1732.6,2357.7 L1737.6,2354.5 L1742.6,2351.2 L1747.6,2347.8 L1752.6,2344.3 L1757.6,2340.8 L1762.7,2337.3 L1767.7,2333.6 L1772.7,2329.9 L1777.7,2326.1 L1782.7,2322.2 L1787.7,2318.3 L1792.8,2314.3 L1797.8,2310.2 L1802.8,2306.0 L1807.8,2301.8 L1812.8,2297.5 L1817.8,2293.1 L1822.9,2288.6 L1827.9,2284.0 L1832.9,2279.4 L1837.9,2274.6 L1842.9,2269.8 L1847.9,2264.9 L1853.0,2259.9 L1858.0,2254.8 L1863.0,2249.6 L1868.0,2244.4 L1873.0,2239.0 L1878.0,2233.6 L1883.1,2228.0 L1888.1,2222.4 L1893.1,2216.6 L1898.1,2210.8 L1903.1,2204.9 L1908.1,2198.8 L1913.2,2192.7 L1918.2,2186.5 L1923.2,2180.1 L1928.2,2173.7 L1933.2,2167.1 L1938.2,2160.5 L1943.3,2153.7 L1948.3,2146.8 L1953.3,2139.7 L1958.3,2132.6 L1963.3,2125.3 L1968.3,2117.9 L1973.4,2110.3 L1978.4,2102.7 L1983.4,2094.8 L1988.4,2086.8 L1993.4,2078.6 L1998.4,2070.3 L2003.5,2061.8 L2008.5,2053.1 L2013.5,2044.2 L2018.5,2035.1 L2023.5,2025.8 L2028.5,2016.3 L2033.6,2006.6 L2038.6,1996.6 L2043.6,1986.3 L2048.6,1975.8 L2053.6,1965.1 L2058.6,1954.0 L2063.7,1942.6 L2068.7,1931.0 L2073.7,1919.0 L2078.7,1906.7 L2083.7,1894.1 L2088.8,1881.1 L2093.8,1867.7 L2098.8,1853.9 L2103.8,1839.8 L2108.8,1825.2 L2113.8,1810.2 L2118.8,1794.8 L2123.9,1778.9 L2128.9,1762.6 L2133.9,1745.8 L2138.9,1728.5 L2143.9,1710.7 L2148.9,1692.4 L2154.0,1673.6 L2159.0,1654.2 L2164.0,1634.4 L2169.0,1614.2 L2174.0,1593.5 L2179.0,1572.4 L2184.1,1551.0 L2189.1,1529.3 L2194.1,1507.5 L2199.1,1485.6 L2204.1,1463.7 L2209.1,1442.0 L2214.2,1420.4 L2219.2,1399.2 L2224.2,1378.3 L2229.2,1357.8 L2234.2,1337.8 L2239.2,1318.3 L2244.3,1299.2 L2249.3,1280.7 L2254.3,1262.7 L2259.3,1245.2 L2264.3,1228.1 L2269.3,1211.6 L2274.4,1195.5 L2279.4,1179.8 L2284.4,1164.5 L2289.4,1149.7 L2294.4,1135.2 L2299.4,1121.2 L2304.5,1107.4 L2309.5,1094.0 L2314.5,1081.0" stroke="#f0f"/>
<path d="M1516.8,2456.0 L1521.9,2454.6 L1526.9,2453.1 L1531.9,2451.7 L1536.9,2450.2 L1541.9,2448.7 L1546.9,2447.2 L1552.0,2445.6 L1557.0,2444.1 L1562.0,2442.4 L1567.0,2440.8 L1572.0,2439.1 L1577.0,2437.4 L1582.1,2435.7 L1587.1,2433.9 L1592.1,2432.1 L1597.1,2430.3 L1602.1,2428.4 L1607.1,2426.5 L1612.2,2424.6 L1617.2,2422.6 L1622.2,2420.6 L1627.2,2418.5 L1632.2,2416.5 L1637.2,2414.3 L1642.3,2412.2 L1647.3,2409.9 L1652.3,2407.7 L1657.3,2405.4 L1662.3,2403.1 L1667.3,2400.7 L1672.4,2398.3 L1677.4,2395.8 L1682.4,2393.3 L1687.4,2390.7 L1692.4,2388.1 L1697.4,2385.4 L1702.5,2382.7 L1707.5,2379.9 L1712.5,2377.1 L1717.5,2374.2 L1722.5,2371.3 L1727.5,2368.3 L1732.6,2365.2 L1737.6,2362.1 L1742.6,2358.9 L1747.6,2355.7 L1752.6,2352.4 L1757.6,2349.0 L1762.7,2345.6 L1767.7,2342.1 L1772.7,2338.6 L1777.7,2335.0 L1782.7,2331.3 L1787.7,2327.5 L1792.8,2323.7 L1797.8,2319.8 L1802.8,2315.8 L1807.8,2311.7 L1812.8,2307.6 L1817.8,2303.4 L1822.9,2299.1 L1827.9,2294.8 L1832.9,2290.3 L1837.9,2285.8 L1842.9,2281.2 L1847.9,2276.5 L1853.0,2271.7 L1858.0,2266.9 L1863.0,2261.9 L1868.0,2256.9 L1873.0,2251.8 L1878.0,2246.6 L1883.1,2241.3 L1888.1,2235.9 L1893.1,2230.4 L1898.1,2224.8 L1903.1,2219.2 L1908.1,2213.4 L1913.2,2207.5 L1918.2,2201.6 L1923.2,2195.5 L1928.2,2189.4 L1933.2,2183.1 L1938.2,2176.7 L1943.3,2170.2 L1948.3,2163.6 L1953.3,2156.9 L1958.3,2150.1 L1963.3,2143.2 L1968.3,2136.1 L1973.4,2128.9 L1978.4,2121.5 L1983.4,2114.1 L1988.4,2106.4 L1993.4,2098.6 L1998.4,2090.7 L2003.5,2082.6 L2008.5,2074.3 L2013.5,2065.8 L2018.5,2057.1 L2023.5,2048.3 L2028.5,2039.2 L2033.6,2029.9 L2038.6,2020.4 L2043.6,2010.7 L2048.6,2000.7 L2053.6,1990.5 L2058.6,1980.0 L2063.7,1969.2 L2068.7,1958.1 L2073.7,1946.8 L2078.7,1935.1 L2083.7,1923.1 L2088.8,1910.8 L2093.8,1898.1 L2098.8,1885.1 L2103.8,1871.8 L2108.8,1858.0 L2113.8,1843.9 L2118.8,1829.4 L2123.9,1814.4 L2128.9,1799.0 L2133.9,1783.2 L2138.9,1766.9 L2143.9,1750.2 L2148.9,1733.0 L2154.0,1715.3 L2159.0,1697.1 L2164.0,1678.4 L2169.0,1659.2 L2174.0,1639.6 L2179.0,1619.5 L2184.1,1598.9 L2189.1,1578.0 L2194.1,1556.7 L2199.1,1535.2 L2204.1,1513.5 L2209.1,1491.7 L2214.2,1469.9 L2219.2,1448.2 L2224.2,1426.7 L2229.2,1405.4 L2234.2,1384.5 L2239.2,1364.0 L2244.3,1343.9 L2249.3,1324.3 L2254.3,1305.2 L2259.3,1286.6 L2264.3,1268.5 L2269.3,1250.9 L2274.4,1233.7 L2279.4,1217.1 L2284.4,1200.8 L2289.4,1185.1 L2294.4,1169.7 L2299.4,1154.8 L2304.5,1140.2 L2309.5,1126.1 L2314.5,1112.2" stroke="#f0f"/>
</g>
<g stroke="#000" fill="none">
<line x1="1555.5" y1="1482.8" x2="2270.0" y2="1482.8" stroke-width="4.6" stroke-opacity="0.45"/>
<line x1="2203.5" y1="963.7" x2="2203.5" y2="1532.7" stroke-width="5.4"/>
<line x1="1525.3" y1="990.6" x2="2270.0" y2="990.6" stroke-width="5.4"/>
<line x1="1555.5" y1="977.1" x2="1555.5" y2="1532.7" stroke-width="5.4"/>
<line x1="1525.3" y1="1360.1" x2="1555.5" y2="1360.1" stroke-width="4.8"/>
<line x1="1525.3" y1="1237.2" x2="1555.5" y2="1237.2" stroke-width="4.8"/>
<line x1="1525.3" y1="1112.2" x2="1555.5" y2="1112.2" stroke-width="4.8"/>
<line x1="1539.2" y1="1422.3" x2="1555.5" y2="1422.3" stroke-width="4.8"/>
<line x1="1539.2" y1="1297.5" x2="1555.5" y2="1297.5" stroke-width="4.8"/>
<line x1="1539.2" y1="1174.9" x2="1555.5" y2="1174.9" stroke-width="4.8"/>
<line x1="1539.2" y1="1050.9" x2="1555.5" y2="1050.9" stroke-width="4.8"/>
<line x1="1647.0" y1="963.7" x2="1647.0" y2="990.6" stroke-width="4.8"/>
<line x1="1831.7" y1="963.7" x2="1831.7" y2="990.6" stroke-width="4.8"/>
<line x1="2019.0" y1="963.7" x2="2019.0" y2="990.6" stroke-width="4.8"/>
<line x1="1739.3" y1="977.1" x2="1739.3" y2="990.6" stroke-width="4.8"/>
<line x1="1926.5" y1="977.1" x2="1926.5" y2="990.6" stroke-width="4.8"/>
<line x1="2111.5" y1="977.1" x2="2111.5" y2="990.6" stroke-width="4.8"/>
<line x1="2270.0" y1="900.0" x2="2270.0" y2="1546.2" stroke-width="5.5"/>
<line x1="1500.0" y1="1532.7" x2="2272.8" y2="1532.7" stroke-width="5.5"/>
</g>
<rect x="513.9" y="12.0" width="615.5" height="484.4" fill="#fff"/>
<g fill="none" stroke-width="12.5" stroke-linecap="round">
<line x1="524.5" y1="66.1" x2="708.0" y2="66.1" stroke="#000"/>
<line x1="524.5" y1="160.0" x2="708.0" y2="160.0" stroke="#f00"/>
<line x1="524.5" y1="254.2" x2="708.0" y2="254.2" stroke="#0f0"/>
<line x1="524.5" y1="348.8" x2="708.0" y2="348.8" stroke="#00f"/>
<line x1="524.5" y1="442.9" x2="708.0" y2="442.9" stroke="#f0f"/>
</g>
<g fill="none" stroke-linecap="square">
<path d="M513.9,496.4 L513.9,12.0 L1129.4,12.0 L1129.4,496.4" stroke="#888" stroke-width="2.4"/>
<line x1="513.9" y1="496.4" x2="1129.4" y2="496.4" stroke-width="3.0" stroke="#3a3a3a"/>
</g>
<g>
<text transform="translate(298.05,196.05) scale(0.8203,0.8000)" font-size="100" stroke="#fff" stroke-width="2.10" vector-effect="non-scaling-stroke" stroke-linejoin="round" xml:space="preserve">200</text>
<text transform="translate(297.16,366.95) scale(0.8257,0.8000)" font-size="100" stroke="#fff" stroke-width="2.10" vector-effect="non-scaling-stroke" stroke-linejoin="round" xml:space="preserve">150</text>
<text transform="translate(297.16,536.05) scale(0.8257,0.8000)" font-size="100" stroke="#fff" stroke-width="2.10" vector-effect="non-scaling-stroke" stroke-linejoin="round" xml:space="preserve">100</text>
<text transform="translate(340.96,706.45) scale(0.8465,0.8000)" font-size="100" stroke="#fff" stroke-width="2.10" vector-effect="non-scaling-stroke" stroke-linejoin="round" xml:space="preserve">50</text>
<text transform="translate(384.50,875.35) scale(0.9131,0.8000)" font-size="100" stroke="#fff" stroke-width="2.10" vector-effect="non-scaling-stroke" stroke-linejoin="round" xml:space="preserve">0</text>
<text transform="translate(313.87,1045.35) scale(0.8390,0.8000)" font-size="100" stroke="#fff" stroke-width="2.10" vector-effect="non-scaling-stroke" stroke-linejoin="round" xml:space="preserve">-50</text>
<text transform="translate(268.00,1214.45) scale(0.8344,0.8000)" font-size="100" stroke="#fff" stroke-width="2.10" vector-effect="non-scaling-stroke" stroke-linejoin="round" xml:space="preserve">-100</text>
<text transform="translate(268.00,1386.05) scale(0.8344,0.8000)" font-size="100" stroke="#fff" stroke-width="2.10" vector-effect="non-scaling-stroke" stroke-linejoin="round" xml:space="preserve">-150</text>
<text transform="translate(268.00,1554.75) scale(0.8344,0.8000)" font-size="100" stroke="#fff" stroke-width="2.10" vector-effect="non-scaling-stroke" stroke-linejoin="round" xml:space="preserve">-200</text>
<text transform="translate(619.40,1639.25) scale(0.8344,0.7972)" font-size="100" stroke="#fff" stroke-width="2.10" vector-effect="non-scaling-stroke" stroke-linejoin="round" xml:space="preserve">-500</text>
<text transform="translate(1126.78,1639.25) scale(0.8921,0.7972)" font-size="100" stroke="#fff" stroke-width="2.10" vector-effect="non-scaling-stroke" stroke-linejoin="round" xml:space="preserve">0</text>
<text transform="translate(1529.34,1639.25) scale(0.8283,0.7972)" font-size="100" stroke="#fff" stroke-width="2.10" vector-effect="non-scaling-stroke" stroke-linejoin="round" xml:space="preserve">500</text>
<text transform="translate(1954.83,1639.25) scale(0.8294,0.7972)" font-size="100" stroke="#fff" stroke-width="2.10" vector-effect="non-scaling-stroke" stroke-linejoin="round" xml:space="preserve">1000</text>
<text transform="translate(1586.85,928.44) scale(0.5888,0.5640)" font-size="100" stroke="#fff" stroke-width="1.60" vector-effect="non-scaling-stroke" stroke-linejoin="round" xml:space="preserve">-300</text>
<text transform="translate(1773.98,928.44) scale(0.5820,0.5640)" font-size="100" stroke="#fff" stroke-width="1.60" vector-effect="non-scaling-stroke" stroke-linejoin="round" xml:space="preserve">-200</text>
<text transform="translate(1958.76,928.44) scale(0.5857,0.5640)" font-size="100" stroke="#fff" stroke-width="1.60" vector-effect="non-scaling-stroke" stroke-linejoin="round" xml:space="preserve">-100</text>
<text transform="translate(2185.71,928.44) scale(0.6471,0.5640)" font-size="100" stroke="#fff" stroke-width="1.60" vector-effect="non-scaling-stroke" stroke-linejoin="round" xml:space="preserve">0</text>
<text transform="translate(1442.30,1005.04) scale(0.5874,0.5640)" font-size="100" stroke="#fff" stroke-width="1.60" vector-effect="non-scaling-stroke" stroke-linejoin="round" xml:space="preserve">80</text>
<text transform="translate(1441.84,1126.64) scale(0.5917,0.5640)" font-size="100" stroke="#fff" stroke-width="1.60" vector-effect="non-scaling-stroke" stroke-linejoin="round" xml:space="preserve">60</text>
<text transform="translate(1443.50,1251.64) scale(0.5762,0.5640)" font-size="100" stroke="#fff" stroke-width="1.60" vector-effect="non-scaling-stroke" stroke-linejoin="round" xml:space="preserve">40</text>
<text transform="translate(1441.84,1374.54) scale(0.5917,0.5640)" font-size="100" stroke="#fff" stroke-width="1.60" vector-effect="non-scaling-stroke" stroke-linejoin="round" xml:space="preserve">20</text>
<text transform="translate(1471.81,1497.24) scale(0.6471,0.5640)" font-size="100" stroke="#fff" stroke-width="1.60" vector-effect="non-scaling-stroke" stroke-linejoin="round" xml:space="preserve">0</text>
<text transform="translate(1079.36,1823.80) scale(1.0469,1.0545)" font-size="100" font-style="italic" xml:space="preserve">H</text>
<text transform="translate(1155.34,1855.29) scale(0.7905,0.7087)" font-size="100" xml:space="preserve">app</text>
<text transform="translate(1319.06,1822.97) scale(0.8381,1.1003)" font-size="100" xml:space="preserve">(</text>
<text transform="translate(1356.81,1824.40) scale(1.0659,1.0869)" font-size="100" xml:space="preserve">k</text>
<text transform="translate(1413.74,1824.40) scale(1.0355,1.0662)" font-size="100" xml:space="preserve">A</text>
<text transform="matrix(1.3701,0,-0.1399,1.3701,1485.14,1839.43)" font-size="100">/</text>
<text transform="translate(1533.85,1824.40) scale(1.1929,1.0307)" font-size="100" xml:space="preserve">m</text>
<text transform="translate(1640.33,1822.58) scale(0.8914,1.1046)" font-size="100" xml:space="preserve">)</text>
<text transform="translate(125.60,1033.05) rotate(-90) scale(1.2288,1.0778)" font-size="100" font-style="italic" font-weight="bold" xml:space="preserve">M</text>
<text transform="translate(125.24,887.66) rotate(-90) scale(1.0819,1.3040)" font-size="100" xml:space="preserve">(</text>
<text transform="translate(128.70,843.90) rotate(-90) scale(1.2196,1.3047)" font-size="100" xml:space="preserve">A</text>
<text transform="translate(128.70,765.63) rotate(-90) scale(1.3971,1.2428)" font-size="100" xml:space="preserve">m</text>
<text transform="translate(69.10,654.26) rotate(-90) scale(0.8725,0.8918)" font-size="100" xml:space="preserve">2</text>
<text transform="translate(27.60,605.00) rotate(-90) matrix(1.3072,0,-0.2820,1.6340,0.28,118.47)" font-size="100">/</text>
<text transform="translate(128.70,549.47) rotate(-90) scale(1.2393,1.3228)" font-size="100" xml:space="preserve">k</text>
<text transform="translate(127.64,489.00) rotate(-90) scale(1.3644,1.2174)" font-size="100" xml:space="preserve">g</text>
<text transform="translate(125.80,412.29) rotate(-90) scale(1.0552,1.3062)" font-size="100" xml:space="preserve">)</text>
<text transform="translate(722.69,90.23) scale(0.7037,0.6742)" font-size="100" stroke="#fff" stroke-width="0.80" vector-effect="non-scaling-stroke" stroke-linejoin="round" xml:space="preserve">0</text>
<text transform="translate(763.87,90.20) scale(0.6618,0.6993)" font-size="100" stroke="#fff" stroke-width="0.80" vector-effect="non-scaling-stroke" stroke-linejoin="round" xml:space="preserve">vol%</text>
<text transform="translate(924.10,90.20) scale(0.7290,0.7017)" font-size="100" stroke="#fff" stroke-width="0.80" vector-effect="non-scaling-stroke" stroke-linejoin="round" xml:space="preserve">soft</text>
<text transform="translate(743.82,185.52) scale(0.6442,0.6839)" font-size="100" stroke="#fff" stroke-width="0.80" vector-effect="non-scaling-stroke" stroke-linejoin="round" xml:space="preserve">5</text>
<text transform="translate(800.67,185.50) scale(0.6665,0.6993)" font-size="100" stroke="#fff" stroke-width="0.80" vector-effect="non-scaling-stroke" stroke-linejoin="round" xml:space="preserve">vol%</text>
<text transform="translate(961.80,185.50) scale(0.7290,0.7017)" font-size="100" stroke="#fff" stroke-width="0.80" vector-effect="non-scaling-stroke" stroke-linejoin="round" xml:space="preserve">soft</text>
<text transform="translate(722.93,279.23) scale(0.6887,0.6742)" font-size="100" stroke="#fff" stroke-width="0.80" vector-effect="non-scaling-stroke" stroke-linejoin="round" xml:space="preserve">10</text>
<text transform="translate(800.67,279.20) scale(0.6665,0.6993)" font-size="100" stroke="#fff" stroke-width="0.80" vector-effect="non-scaling-stroke" stroke-linejoin="round" xml:space="preserve">vol%</text>
<text transform="translate(961.79,279.20) scale(0.7315,0.7017)" font-size="100" stroke="#fff" stroke-width="0.80" vector-effect="non-scaling-stroke" stroke-linejoin="round" xml:space="preserve">soft</text>
<text transform="translate(722.92,373.61) scale(0.6905,0.6853)" font-size="100" stroke="#fff" stroke-width="0.80" vector-effect="non-scaling-stroke" stroke-linejoin="round" xml:space="preserve">15</text>
<text transform="translate(800.67,373.60) scale(0.6665,0.7007)" font-size="100" stroke="#fff" stroke-width="0.80" vector-effect="non-scaling-stroke" stroke-linejoin="round" xml:space="preserve">vol%</text>
<text transform="translate(961.79,373.60) scale(0.7315,0.7031)" font-size="100" stroke="#fff" stroke-width="0.80" vector-effect="non-scaling-stroke" stroke-linejoin="round" xml:space="preserve">soft</text>
<text transform="translate(722.92,467.92) scale(0.6907,0.6756)" font-size="100" stroke="#fff" stroke-width="0.80" vector-effect="non-scaling-stroke" stroke-linejoin="round" xml:space="preserve">100</text>
<text transform="translate(838.36,467.90) scale(0.6712,0.7007)" font-size="100" stroke="#fff" stroke-width="0.80" vector-effect="non-scaling-stroke" stroke-linejoin="round" xml:space="preserve">vol%</text>
<text transform="translate(1000.55,467.90) scale(0.7100,0.7031)" font-size="100" stroke="#fff" stroke-width="0.80" vector-effect="non-scaling-stroke" stroke-linejoin="round" xml:space="preserve">soft</text>
</g>
</g>
</svg>
</body></html>
